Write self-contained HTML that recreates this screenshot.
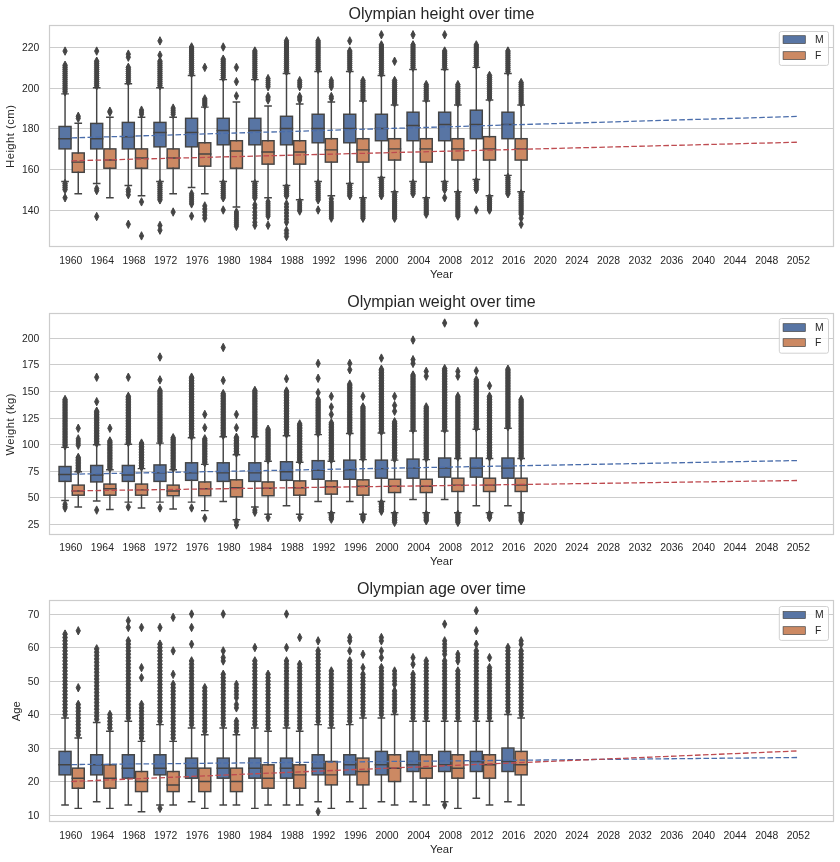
<!DOCTYPE html>
<html lang="en">
<head>
<meta charset="utf-8">
<title>Olympian height, weight and age over time</title>
<style>
html,body{margin:0;padding:0;background:#ffffff;}
body{width:840px;height:862px;overflow:hidden;font-family:"Liberation Sans",sans-serif;}
svg{display:block;will-change:transform;transform:translateZ(0);}
</style>
</head>
<body>
<svg width="840" height="862" viewBox="0 0 840 862" font-family="'Liberation Sans', sans-serif" fill="#262626">
<defs><path id="d" d="M0 -4.2 L2.15 0 L0 4.2 L-2.15 0 Z" fill="#444444" stroke="#444444" stroke-width="0.95" stroke-linejoin="miter"/><path id="e" d="M0 -4.25 L2.3 0 L0 4.25 L-2.3 0 Z" fill="#444444" stroke="#444444" stroke-width="1" stroke-linejoin="miter"/></defs>
<rect width="840" height="862" fill="#ffffff"/>
<g>
<text x="441.5" y="18.6" font-size="16" text-anchor="middle">Olympian height over time</text>
<path d="M49.5 210.5H833.5M49.5 169.5H833.5M49.5 128.5H833.5M49.5 88.5H833.5M49.5 47.5H833.5" stroke="#cccccc" stroke-width="1" fill="none"/>
<g font-size="10.4" text-anchor="end">
<text x="39.3" y="214.25">140</text>
<text x="39.3" y="173.25">160</text>
<text x="39.3" y="132.25">180</text>
<text x="39.3" y="92.25">200</text>
<text x="39.3" y="51.25">220</text>
</g>
<g font-size="10.4" text-anchor="middle">
<text x="70.75" y="263.9">1960</text>
<text x="102.39" y="263.9">1964</text>
<text x="134.02" y="263.9">1968</text>
<text x="165.66" y="263.9">1972</text>
<text x="197.29" y="263.9">1976</text>
<text x="228.93" y="263.9">1980</text>
<text x="260.56" y="263.9">1984</text>
<text x="292.2" y="263.9">1988</text>
<text x="323.83" y="263.9">1992</text>
<text x="355.47" y="263.9">1996</text>
<text x="387.1" y="263.9">2000</text>
<text x="418.74" y="263.9">2004</text>
<text x="450.37" y="263.9">2008</text>
<text x="482" y="263.9">2012</text>
<text x="513.64" y="263.9">2016</text>
<text x="545.28" y="263.9">2020</text>
<text x="576.91" y="263.9">2024</text>
<text x="608.55" y="263.9">2028</text>
<text x="640.18" y="263.9">2032</text>
<text x="671.82" y="263.9">2036</text>
<text x="703.45" y="263.9">2040</text>
<text x="735.09" y="263.9">2044</text>
<text x="766.72" y="263.9">2048</text>
<text x="798.36" y="263.9">2052</text>
</g>
<text x="441.5" y="277.9" font-size="11.3" text-anchor="middle">Year</text>
<text transform="translate(14.3 136.3) rotate(-90)" font-size="11.3" letter-spacing="0.45" text-anchor="middle">Height (cm)</text>
<g stroke="#444444" stroke-width="1.45"><rect x="59.05" y="126.46" width="12" height="22.41" fill="#5875a4"/><rect x="72.25" y="152.95" width="12" height="19.36" fill="#cc8963"/><rect x="90.69" y="123.41" width="12" height="25.47" fill="#5875a4"/><rect x="103.89" y="148.88" width="12" height="19.36" fill="#cc8963"/><rect x="122.32" y="122.39" width="12" height="26.49" fill="#5875a4"/><rect x="135.52" y="148.88" width="12" height="19.36" fill="#cc8963"/><rect x="153.96" y="122.39" width="12" height="24.45" fill="#5875a4"/><rect x="167.16" y="148.88" width="12" height="19.36" fill="#cc8963"/><rect x="185.59" y="118.31" width="12" height="28.53" fill="#5875a4"/><rect x="198.79" y="142.76" width="12" height="23.43" fill="#cc8963"/><rect x="217.23" y="118.31" width="12" height="26.49" fill="#5875a4"/><rect x="230.43" y="140.72" width="12" height="27.51" fill="#cc8963"/><rect x="248.86" y="118.31" width="12" height="26.49" fill="#5875a4"/><rect x="262.06" y="140.72" width="12" height="23.43" fill="#cc8963"/><rect x="280.5" y="116.28" width="12" height="28.53" fill="#5875a4"/><rect x="293.7" y="140.72" width="12" height="23.43" fill="#cc8963"/><rect x="312.13" y="114.24" width="12" height="28.53" fill="#5875a4"/><rect x="325.33" y="138.69" width="12" height="23.43" fill="#cc8963"/><rect x="343.76" y="114.24" width="12" height="28.53" fill="#5875a4"/><rect x="356.97" y="138.69" width="12" height="23.43" fill="#cc8963"/><rect x="375.4" y="114.24" width="12" height="26.49" fill="#5875a4"/><rect x="388.6" y="138.69" width="12" height="21.39" fill="#cc8963"/><rect x="407.03" y="112.2" width="12" height="28.53" fill="#5875a4"/><rect x="420.24" y="138.69" width="12" height="23.43" fill="#cc8963"/><rect x="438.67" y="112.2" width="12" height="28.53" fill="#5875a4"/><rect x="451.87" y="138.69" width="12" height="21.39" fill="#cc8963"/><rect x="470.3" y="110.16" width="12" height="28.53" fill="#5875a4"/><rect x="483.5" y="136.65" width="12" height="23.43" fill="#cc8963"/><rect x="501.94" y="112.2" width="12" height="26.49" fill="#5875a4"/><rect x="515.14" y="138.69" width="12" height="21.39" fill="#cc8963"/></g>
<path d="M65.05 126.46V93.86M65.05 148.88V181.47M61.95 93.86H68.15M61.95 181.47H68.15M59.05 138.69H71.05M78.25 152.95V123.2M78.25 172.31V193.7M75.15 123.2H81.35M75.15 193.7H81.35M72.25 162.12H84.25M96.69 123.41V87.75M96.69 148.88V183.51M93.59 87.75H99.79M93.59 183.51H99.79M90.69 138.69H102.69M109.89 148.88V117.29M109.89 168.23V197.78M106.79 117.29H112.98M106.79 197.78H112.98M103.89 160.08H115.89M128.32 122.39V83.67M128.32 148.88V185.55M125.22 83.67H131.42M125.22 185.55H131.42M122.32 136.65H134.32M141.52 148.88V117.29M141.52 168.23V195.74M138.42 117.29H144.62M138.42 195.74H144.62M135.52 158.04H147.52M159.96 122.39V87.75M159.96 146.84V181.47M156.86 87.75H163.06M156.86 181.47H163.06M153.96 132.57H165.96M173.16 148.88V117.29M173.16 168.23V193.7M170.06 117.29H176.25M170.06 193.7H176.25M167.16 158.04H179.16M191.59 118.31V75.52M191.59 146.84V187.59M188.49 75.52H194.69M188.49 187.59H194.69M185.59 132.57H197.59M204.79 142.76V107.11M204.79 166.19V193.7M201.69 107.11H207.89M201.69 193.7H207.89M198.79 153.97H210.79M223.23 118.31V79.6M223.23 144.8V181.47M220.13 79.6H226.33M220.13 181.47H226.33M217.23 130.54H229.23M236.43 140.72V102.01M236.43 168.23V206.94M233.33 102.01H239.53M233.33 206.94H239.53M230.43 150.91H242.43M254.86 118.31V79.6M254.86 144.8V181.47M251.76 79.6H257.96M251.76 181.47H257.96M248.86 130.54H260.86M268.06 140.72V106.09M268.06 164.16V197.78M264.96 106.09H271.16M264.96 197.78H271.16M262.06 151.93H274.06M286.5 116.28V73.49M286.5 144.8V185.55M283.39 73.49H289.6M283.39 185.55H289.6M280.5 128.5H292.5M299.7 140.72V104.05M299.7 164.16V199.81M296.6 104.05H302.8M296.6 199.81H302.8M293.7 151.93H305.7M318.13 114.24V71.45M318.13 142.76V181.47M315.03 71.45H321.23M315.03 181.47H321.23M312.13 128.5H324.13M331.33 138.69V102.01M331.33 162.12V195.74M328.23 102.01H334.43M328.23 195.74H334.43M325.33 149.89H337.33M349.76 114.24V71.45M349.76 142.76V183.51M346.66 71.45H352.87M346.66 183.51H352.87M343.76 128.5H355.76M362.97 138.69V100.99M362.97 162.12V197.78M359.87 100.99H366.07M359.87 197.78H366.07M356.97 149.89H368.97M381.4 114.24V75.52M381.4 140.72V177.4M378.3 75.52H384.5M378.3 177.4H384.5M375.4 128.5H387.4M394.6 138.69V105.07M394.6 160.08V191.66M391.5 105.07H397.7M391.5 191.66H397.7M388.6 148.88H400.6M413.03 112.2V69.41M413.03 140.72V181.47M409.93 69.41H416.13M409.93 181.47H416.13M407.03 125.44H419.03M426.24 138.69V100.99M426.24 162.12V197.78M423.13 100.99H429.34M423.13 197.78H429.34M420.24 148.88H432.24M444.67 112.2V69.41M444.67 140.72V181.47M441.57 69.41H447.77M441.57 181.47H447.77M438.67 124.42H450.67M457.87 138.69V105.07M457.87 160.08V191.66M454.77 105.07H460.97M454.77 191.66H460.97M451.87 148.88H463.87M476.3 110.16V67.38M476.3 138.69V179.44M473.2 67.38H479.4M473.2 179.44H479.4M470.3 124.42H482.3M489.5 136.65V99.97M489.5 160.08V195.74M486.4 99.97H492.61M486.4 195.74H492.61M483.5 148.88H495.5M507.94 112.2V73.49M507.94 138.69V175.36M504.84 73.49H511.04M504.84 175.36H511.04M501.94 124.42H513.94M521.14 138.69V105.07M521.14 160.08V191.66M518.04 105.07H524.24M518.04 191.66H524.24M515.14 148.88H527.14" stroke="#444444" stroke-width="1.45" stroke-linecap="square" fill="none"/>
<g><use href="#e" x="65.05" y="91.82"/><use href="#e" x="65.05" y="89.79"/><use href="#e" x="65.05" y="87.75"/><use href="#e" x="65.05" y="85.71"/><use href="#e" x="65.05" y="83.67"/><use href="#e" x="65.05" y="81.64"/><use href="#e" x="65.05" y="79.6"/><use href="#e" x="65.05" y="77.56"/><use href="#e" x="65.05" y="75.52"/><use href="#e" x="65.05" y="73.49"/><use href="#e" x="65.05" y="71.45"/><use href="#e" x="65.05" y="69.41"/><use href="#e" x="65.05" y="67.38"/><use href="#e" x="65.05" y="65.34"/><use href="#d" x="65.05" y="51.08"/><use href="#e" x="65.05" y="183.51"/><use href="#e" x="65.05" y="185.55"/><use href="#e" x="65.05" y="187.59"/><use href="#e" x="65.05" y="189.62"/><use href="#d" x="65.05" y="197.78"/><use href="#d" x="78.25" y="118.31"/><use href="#d" x="78.25" y="116.28"/><use href="#e" x="96.69" y="85.71"/><use href="#e" x="96.69" y="83.67"/><use href="#e" x="96.69" y="81.64"/><use href="#e" x="96.69" y="79.6"/><use href="#e" x="96.69" y="77.56"/><use href="#e" x="96.69" y="75.52"/><use href="#e" x="96.69" y="73.49"/><use href="#e" x="96.69" y="71.45"/><use href="#e" x="96.69" y="69.41"/><use href="#e" x="96.69" y="67.38"/><use href="#e" x="96.69" y="65.34"/><use href="#e" x="96.69" y="63.3"/><use href="#e" x="96.69" y="61.26"/><use href="#d" x="96.69" y="51.08"/><use href="#d" x="96.69" y="188.61"/><use href="#d" x="96.69" y="190.64"/><use href="#d" x="96.69" y="216.52"/><use href="#d" x="109.89" y="112.2"/><use href="#d" x="109.89" y="111.18"/><use href="#e" x="128.32" y="81.64"/><use href="#e" x="128.32" y="79.6"/><use href="#e" x="128.32" y="77.56"/><use href="#e" x="128.32" y="75.52"/><use href="#e" x="128.32" y="73.49"/><use href="#e" x="128.32" y="71.45"/><use href="#e" x="128.32" y="69.41"/><use href="#e" x="128.32" y="67.38"/><use href="#d" x="128.32" y="57.19"/><use href="#d" x="128.32" y="54.13"/><use href="#d" x="128.32" y="189.62"/><use href="#d" x="128.32" y="191.66"/><use href="#d" x="128.32" y="194.72"/><use href="#d" x="128.32" y="224.26"/><use href="#d" x="141.52" y="114.24"/><use href="#d" x="141.52" y="112.2"/><use href="#d" x="141.52" y="110.16"/><use href="#d" x="141.52" y="201.85"/><use href="#d" x="141.52" y="235.88"/><use href="#e" x="159.96" y="85.71"/><use href="#e" x="159.96" y="83.67"/><use href="#e" x="159.96" y="81.64"/><use href="#e" x="159.96" y="79.6"/><use href="#e" x="159.96" y="77.56"/><use href="#e" x="159.96" y="75.52"/><use href="#e" x="159.96" y="73.49"/><use href="#e" x="159.96" y="71.45"/><use href="#e" x="159.96" y="69.41"/><use href="#e" x="159.96" y="67.38"/><use href="#e" x="159.96" y="65.34"/><use href="#e" x="159.96" y="63.3"/><use href="#e" x="159.96" y="61.26"/><use href="#d" x="159.96" y="55.15"/><use href="#d" x="159.96" y="40.89"/><use href="#e" x="159.96" y="183.51"/><use href="#e" x="159.96" y="185.55"/><use href="#e" x="159.96" y="187.59"/><use href="#e" x="159.96" y="189.62"/><use href="#e" x="159.96" y="191.66"/><use href="#e" x="159.96" y="193.7"/><use href="#e" x="159.96" y="195.74"/><use href="#e" x="159.96" y="197.78"/><use href="#e" x="159.96" y="199.81"/><use href="#d" x="159.96" y="225.48"/><use href="#d" x="159.96" y="230.17"/><use href="#d" x="173.16" y="114.24"/><use href="#d" x="173.16" y="112.2"/><use href="#d" x="173.16" y="110.16"/><use href="#d" x="173.16" y="108.12"/><use href="#d" x="173.16" y="212.04"/><use href="#e" x="191.59" y="73.49"/><use href="#e" x="191.59" y="71.45"/><use href="#e" x="191.59" y="69.41"/><use href="#e" x="191.59" y="67.38"/><use href="#e" x="191.59" y="65.34"/><use href="#e" x="191.59" y="63.3"/><use href="#e" x="191.59" y="61.26"/><use href="#e" x="191.59" y="59.23"/><use href="#e" x="191.59" y="57.19"/><use href="#e" x="191.59" y="55.15"/><use href="#e" x="191.59" y="53.11"/><use href="#e" x="191.59" y="51.08"/><use href="#e" x="191.59" y="49.04"/><use href="#e" x="191.59" y="47"/><use href="#d" x="191.59" y="193.7"/><use href="#d" x="191.59" y="195.74"/><use href="#d" x="191.59" y="197.78"/><use href="#d" x="191.59" y="199.81"/><use href="#d" x="191.59" y="201.85"/><use href="#d" x="191.59" y="203.89"/><use href="#d" x="191.59" y="216.11"/><use href="#e" x="204.79" y="105.07"/><use href="#e" x="204.79" y="103.03"/><use href="#e" x="204.79" y="100.99"/><use href="#e" x="204.79" y="98.96"/><use href="#d" x="204.79" y="67.38"/><use href="#d" x="204.79" y="205.93"/><use href="#d" x="204.79" y="208.98"/><use href="#d" x="204.79" y="212.04"/><use href="#d" x="204.79" y="215.09"/><use href="#d" x="204.79" y="218.15"/><use href="#e" x="223.23" y="77.56"/><use href="#e" x="223.23" y="75.52"/><use href="#e" x="223.23" y="73.49"/><use href="#e" x="223.23" y="71.45"/><use href="#e" x="223.23" y="69.41"/><use href="#e" x="223.23" y="67.38"/><use href="#e" x="223.23" y="65.34"/><use href="#e" x="223.23" y="63.3"/><use href="#e" x="223.23" y="61.26"/><use href="#e" x="223.23" y="59.23"/><use href="#d" x="223.23" y="47"/><use href="#e" x="223.23" y="183.51"/><use href="#e" x="223.23" y="185.55"/><use href="#e" x="223.23" y="187.59"/><use href="#e" x="223.23" y="189.62"/><use href="#e" x="223.23" y="191.66"/><use href="#e" x="223.23" y="193.7"/><use href="#e" x="223.23" y="195.74"/><use href="#e" x="223.23" y="197.78"/><use href="#d" x="223.23" y="210"/><use href="#d" x="236.43" y="95.9"/><use href="#d" x="236.43" y="81.64"/><use href="#d" x="236.43" y="67.38"/><use href="#d" x="236.43" y="212.04"/><use href="#d" x="236.43" y="214.08"/><use href="#d" x="236.43" y="216.11"/><use href="#d" x="236.43" y="218.15"/><use href="#d" x="236.43" y="220.19"/><use href="#d" x="236.43" y="222.22"/><use href="#d" x="236.43" y="224.26"/><use href="#d" x="236.43" y="226.3"/><use href="#e" x="254.86" y="77.56"/><use href="#e" x="254.86" y="75.52"/><use href="#e" x="254.86" y="73.49"/><use href="#e" x="254.86" y="71.45"/><use href="#e" x="254.86" y="69.41"/><use href="#e" x="254.86" y="67.38"/><use href="#e" x="254.86" y="65.34"/><use href="#e" x="254.86" y="63.3"/><use href="#e" x="254.86" y="61.26"/><use href="#e" x="254.86" y="59.23"/><use href="#e" x="254.86" y="57.19"/><use href="#e" x="254.86" y="55.15"/><use href="#e" x="254.86" y="53.11"/><use href="#e" x="254.86" y="51.08"/><use href="#e" x="254.86" y="183.51"/><use href="#e" x="254.86" y="185.55"/><use href="#e" x="254.86" y="187.59"/><use href="#e" x="254.86" y="189.62"/><use href="#e" x="254.86" y="191.66"/><use href="#e" x="254.86" y="193.7"/><use href="#e" x="254.86" y="195.74"/><use href="#e" x="254.86" y="197.78"/><use href="#d" x="254.86" y="204.91"/><use href="#d" x="254.86" y="207.96"/><use href="#d" x="254.86" y="212.04"/><use href="#d" x="254.86" y="215.09"/><use href="#d" x="254.86" y="218.15"/><use href="#d" x="254.86" y="222.22"/><use href="#d" x="254.86" y="225.28"/><use href="#d" x="268.06" y="99.97"/><use href="#d" x="268.06" y="97.94"/><use href="#d" x="268.06" y="96.51"/><use href="#d" x="268.06" y="86.73"/><use href="#d" x="268.06" y="84.69"/><use href="#d" x="268.06" y="82.66"/><use href="#d" x="268.06" y="80.62"/><use href="#d" x="268.06" y="78.58"/><use href="#d" x="268.06" y="201.85"/><use href="#d" x="268.06" y="203.89"/><use href="#d" x="268.06" y="205.93"/><use href="#d" x="268.06" y="207.96"/><use href="#d" x="268.06" y="210"/><use href="#d" x="268.06" y="212.04"/><use href="#d" x="268.06" y="214.08"/><use href="#d" x="268.06" y="216.11"/><use href="#d" x="268.06" y="225.28"/><use href="#e" x="286.5" y="71.45"/><use href="#e" x="286.5" y="69.41"/><use href="#e" x="286.5" y="67.38"/><use href="#e" x="286.5" y="65.34"/><use href="#e" x="286.5" y="63.3"/><use href="#e" x="286.5" y="61.26"/><use href="#e" x="286.5" y="59.23"/><use href="#e" x="286.5" y="57.19"/><use href="#e" x="286.5" y="55.15"/><use href="#e" x="286.5" y="53.11"/><use href="#e" x="286.5" y="51.08"/><use href="#e" x="286.5" y="49.04"/><use href="#e" x="286.5" y="47"/><use href="#e" x="286.5" y="44.96"/><use href="#e" x="286.5" y="42.92"/><use href="#e" x="286.5" y="40.89"/><use href="#e" x="286.5" y="187.59"/><use href="#e" x="286.5" y="189.62"/><use href="#e" x="286.5" y="191.66"/><use href="#e" x="286.5" y="193.7"/><use href="#e" x="286.5" y="195.74"/><use href="#d" x="286.5" y="203.89"/><use href="#d" x="286.5" y="206.94"/><use href="#d" x="286.5" y="210"/><use href="#d" x="286.5" y="213.06"/><use href="#d" x="286.5" y="216.11"/><use href="#d" x="286.5" y="219.17"/><use href="#d" x="286.5" y="222.22"/><use href="#d" x="286.5" y="230.38"/><use href="#d" x="286.5" y="233.43"/><use href="#d" x="286.5" y="236.49"/><use href="#d" x="299.7" y="99.97"/><use href="#d" x="299.7" y="97.94"/><use href="#d" x="299.7" y="96.51"/><use href="#d" x="299.7" y="86.73"/><use href="#d" x="299.7" y="84.69"/><use href="#d" x="299.7" y="82.66"/><use href="#d" x="299.7" y="80.62"/><use href="#d" x="299.7" y="201.85"/><use href="#d" x="299.7" y="203.89"/><use href="#d" x="299.7" y="205.93"/><use href="#d" x="299.7" y="207.96"/><use href="#d" x="299.7" y="210"/><use href="#d" x="299.7" y="211.02"/><use href="#e" x="318.13" y="69.41"/><use href="#e" x="318.13" y="67.38"/><use href="#e" x="318.13" y="65.34"/><use href="#e" x="318.13" y="63.3"/><use href="#e" x="318.13" y="61.26"/><use href="#e" x="318.13" y="59.23"/><use href="#e" x="318.13" y="57.19"/><use href="#e" x="318.13" y="55.15"/><use href="#e" x="318.13" y="53.11"/><use href="#e" x="318.13" y="51.08"/><use href="#e" x="318.13" y="49.04"/><use href="#e" x="318.13" y="47"/><use href="#e" x="318.13" y="44.96"/><use href="#e" x="318.13" y="42.92"/><use href="#e" x="318.13" y="40.89"/><use href="#e" x="318.13" y="183.51"/><use href="#e" x="318.13" y="185.55"/><use href="#e" x="318.13" y="187.59"/><use href="#e" x="318.13" y="189.62"/><use href="#e" x="318.13" y="191.66"/><use href="#e" x="318.13" y="193.7"/><use href="#e" x="318.13" y="195.74"/><use href="#e" x="318.13" y="197.78"/><use href="#e" x="318.13" y="199.81"/><use href="#d" x="318.13" y="210"/><use href="#d" x="331.33" y="98.55"/><use href="#d" x="331.33" y="96.51"/><use href="#d" x="331.33" y="86.73"/><use href="#d" x="331.33" y="84.69"/><use href="#d" x="331.33" y="82.66"/><use href="#d" x="331.33" y="80.62"/><use href="#d" x="331.33" y="198.79"/><use href="#d" x="331.33" y="201.85"/><use href="#d" x="331.33" y="203.89"/><use href="#d" x="331.33" y="205.93"/><use href="#d" x="331.33" y="207.96"/><use href="#d" x="331.33" y="210"/><use href="#d" x="331.33" y="212.04"/><use href="#d" x="331.33" y="214.08"/><use href="#d" x="331.33" y="216.11"/><use href="#d" x="331.33" y="218.15"/><use href="#e" x="349.76" y="69.41"/><use href="#e" x="349.76" y="67.38"/><use href="#e" x="349.76" y="65.34"/><use href="#e" x="349.76" y="63.3"/><use href="#e" x="349.76" y="61.26"/><use href="#e" x="349.76" y="59.23"/><use href="#e" x="349.76" y="57.19"/><use href="#e" x="349.76" y="55.15"/><use href="#e" x="349.76" y="53.11"/><use href="#e" x="349.76" y="51.08"/><use href="#d" x="349.76" y="40.89"/><use href="#e" x="349.76" y="185.55"/><use href="#e" x="349.76" y="187.59"/><use href="#e" x="349.76" y="189.62"/><use href="#e" x="349.76" y="191.66"/><use href="#e" x="349.76" y="193.7"/><use href="#e" x="349.76" y="195.74"/><use href="#e" x="362.97" y="98.96"/><use href="#e" x="362.97" y="96.92"/><use href="#e" x="362.97" y="94.88"/><use href="#e" x="362.97" y="92.84"/><use href="#e" x="362.97" y="90.81"/><use href="#e" x="362.97" y="88.77"/><use href="#e" x="362.97" y="86.73"/><use href="#e" x="362.97" y="84.69"/><use href="#e" x="362.97" y="82.66"/><use href="#e" x="362.97" y="80.62"/><use href="#e" x="362.97" y="199.81"/><use href="#e" x="362.97" y="201.85"/><use href="#e" x="362.97" y="203.89"/><use href="#e" x="362.97" y="205.93"/><use href="#e" x="362.97" y="207.96"/><use href="#e" x="362.97" y="210"/><use href="#e" x="362.97" y="212.04"/><use href="#e" x="362.97" y="214.08"/><use href="#e" x="362.97" y="216.11"/><use href="#e" x="362.97" y="218.15"/><use href="#e" x="381.4" y="73.49"/><use href="#e" x="381.4" y="71.45"/><use href="#e" x="381.4" y="69.41"/><use href="#e" x="381.4" y="67.38"/><use href="#e" x="381.4" y="65.34"/><use href="#e" x="381.4" y="63.3"/><use href="#e" x="381.4" y="61.26"/><use href="#e" x="381.4" y="59.23"/><use href="#e" x="381.4" y="57.19"/><use href="#e" x="381.4" y="55.15"/><use href="#e" x="381.4" y="53.11"/><use href="#e" x="381.4" y="51.08"/><use href="#e" x="381.4" y="49.04"/><use href="#e" x="381.4" y="47"/><use href="#e" x="381.4" y="44.96"/><use href="#d" x="381.4" y="34.77"/><use href="#e" x="381.4" y="179.44"/><use href="#e" x="381.4" y="181.47"/><use href="#e" x="381.4" y="183.51"/><use href="#e" x="381.4" y="185.55"/><use href="#e" x="381.4" y="187.59"/><use href="#e" x="381.4" y="189.62"/><use href="#e" x="381.4" y="191.66"/><use href="#e" x="381.4" y="193.7"/><use href="#e" x="381.4" y="195.74"/><use href="#e" x="394.6" y="103.03"/><use href="#e" x="394.6" y="100.99"/><use href="#e" x="394.6" y="98.96"/><use href="#e" x="394.6" y="96.92"/><use href="#e" x="394.6" y="94.88"/><use href="#e" x="394.6" y="92.84"/><use href="#e" x="394.6" y="90.81"/><use href="#e" x="394.6" y="88.77"/><use href="#e" x="394.6" y="86.73"/><use href="#e" x="394.6" y="84.69"/><use href="#e" x="394.6" y="82.66"/><use href="#e" x="394.6" y="80.62"/><use href="#d" x="394.6" y="61.26"/><use href="#e" x="394.6" y="193.7"/><use href="#e" x="394.6" y="195.74"/><use href="#e" x="394.6" y="197.78"/><use href="#e" x="394.6" y="199.81"/><use href="#e" x="394.6" y="201.85"/><use href="#e" x="394.6" y="203.89"/><use href="#e" x="394.6" y="205.93"/><use href="#e" x="394.6" y="207.96"/><use href="#e" x="394.6" y="210"/><use href="#e" x="394.6" y="212.04"/><use href="#e" x="394.6" y="214.08"/><use href="#e" x="394.6" y="216.11"/><use href="#e" x="394.6" y="218.15"/><use href="#e" x="413.03" y="67.38"/><use href="#e" x="413.03" y="65.34"/><use href="#e" x="413.03" y="63.3"/><use href="#e" x="413.03" y="61.26"/><use href="#e" x="413.03" y="59.23"/><use href="#e" x="413.03" y="57.19"/><use href="#e" x="413.03" y="55.15"/><use href="#e" x="413.03" y="53.11"/><use href="#e" x="413.03" y="51.08"/><use href="#e" x="413.03" y="49.04"/><use href="#e" x="413.03" y="47"/><use href="#e" x="413.03" y="44.96"/><use href="#d" x="413.03" y="34.77"/><use href="#e" x="413.03" y="183.51"/><use href="#e" x="413.03" y="185.55"/><use href="#e" x="413.03" y="187.59"/><use href="#e" x="413.03" y="189.62"/><use href="#e" x="413.03" y="191.66"/><use href="#e" x="413.03" y="193.7"/><use href="#e" x="426.24" y="98.96"/><use href="#e" x="426.24" y="96.92"/><use href="#e" x="426.24" y="94.88"/><use href="#e" x="426.24" y="92.84"/><use href="#e" x="426.24" y="90.81"/><use href="#e" x="426.24" y="88.77"/><use href="#e" x="426.24" y="86.73"/><use href="#e" x="426.24" y="84.69"/><use href="#e" x="426.24" y="199.81"/><use href="#e" x="426.24" y="201.85"/><use href="#e" x="426.24" y="203.89"/><use href="#e" x="426.24" y="205.93"/><use href="#e" x="426.24" y="207.96"/><use href="#e" x="426.24" y="210"/><use href="#e" x="426.24" y="212.04"/><use href="#e" x="426.24" y="214.08"/><use href="#e" x="444.67" y="67.38"/><use href="#e" x="444.67" y="65.34"/><use href="#e" x="444.67" y="63.3"/><use href="#e" x="444.67" y="61.26"/><use href="#e" x="444.67" y="59.23"/><use href="#e" x="444.67" y="57.19"/><use href="#e" x="444.67" y="55.15"/><use href="#e" x="444.67" y="53.11"/><use href="#e" x="444.67" y="51.08"/><use href="#d" x="444.67" y="34.77"/><use href="#e" x="444.67" y="183.51"/><use href="#e" x="444.67" y="185.55"/><use href="#e" x="444.67" y="187.59"/><use href="#e" x="444.67" y="189.62"/><use href="#d" x="444.67" y="197.78"/><use href="#e" x="457.87" y="103.03"/><use href="#e" x="457.87" y="100.99"/><use href="#e" x="457.87" y="98.96"/><use href="#e" x="457.87" y="96.92"/><use href="#e" x="457.87" y="94.88"/><use href="#e" x="457.87" y="92.84"/><use href="#e" x="457.87" y="90.81"/><use href="#e" x="457.87" y="88.77"/><use href="#e" x="457.87" y="86.73"/><use href="#e" x="457.87" y="84.69"/><use href="#e" x="457.87" y="193.7"/><use href="#e" x="457.87" y="195.74"/><use href="#e" x="457.87" y="197.78"/><use href="#e" x="457.87" y="199.81"/><use href="#e" x="457.87" y="201.85"/><use href="#e" x="457.87" y="203.89"/><use href="#e" x="457.87" y="205.93"/><use href="#e" x="457.87" y="207.96"/><use href="#e" x="457.87" y="210"/><use href="#e" x="457.87" y="212.04"/><use href="#e" x="457.87" y="214.08"/><use href="#e" x="457.87" y="216.11"/><use href="#e" x="476.3" y="65.34"/><use href="#e" x="476.3" y="63.3"/><use href="#e" x="476.3" y="61.26"/><use href="#e" x="476.3" y="59.23"/><use href="#e" x="476.3" y="57.19"/><use href="#e" x="476.3" y="55.15"/><use href="#e" x="476.3" y="53.11"/><use href="#e" x="476.3" y="51.08"/><use href="#e" x="476.3" y="49.04"/><use href="#e" x="476.3" y="47"/><use href="#e" x="476.3" y="44.96"/><use href="#e" x="476.3" y="181.47"/><use href="#e" x="476.3" y="183.51"/><use href="#e" x="476.3" y="185.55"/><use href="#e" x="476.3" y="187.59"/><use href="#e" x="476.3" y="189.62"/><use href="#d" x="476.3" y="210"/><use href="#e" x="489.5" y="97.94"/><use href="#e" x="489.5" y="95.9"/><use href="#e" x="489.5" y="93.86"/><use href="#e" x="489.5" y="91.82"/><use href="#e" x="489.5" y="89.79"/><use href="#e" x="489.5" y="87.75"/><use href="#e" x="489.5" y="85.71"/><use href="#e" x="489.5" y="83.67"/><use href="#e" x="489.5" y="81.64"/><use href="#e" x="489.5" y="79.6"/><use href="#e" x="489.5" y="77.56"/><use href="#e" x="489.5" y="75.52"/><use href="#e" x="489.5" y="197.78"/><use href="#e" x="489.5" y="199.81"/><use href="#e" x="489.5" y="201.85"/><use href="#e" x="489.5" y="203.89"/><use href="#e" x="489.5" y="205.93"/><use href="#e" x="489.5" y="207.96"/><use href="#e" x="489.5" y="210"/><use href="#e" x="507.94" y="71.45"/><use href="#e" x="507.94" y="69.41"/><use href="#e" x="507.94" y="67.38"/><use href="#e" x="507.94" y="65.34"/><use href="#e" x="507.94" y="63.3"/><use href="#e" x="507.94" y="61.26"/><use href="#e" x="507.94" y="59.23"/><use href="#e" x="507.94" y="57.19"/><use href="#e" x="507.94" y="55.15"/><use href="#e" x="507.94" y="53.11"/><use href="#e" x="507.94" y="51.08"/><use href="#e" x="507.94" y="177.4"/><use href="#e" x="507.94" y="179.44"/><use href="#e" x="507.94" y="181.47"/><use href="#e" x="507.94" y="183.51"/><use href="#e" x="507.94" y="185.55"/><use href="#e" x="507.94" y="187.59"/><use href="#e" x="507.94" y="189.62"/><use href="#e" x="507.94" y="191.66"/><use href="#e" x="507.94" y="193.7"/><use href="#e" x="521.14" y="103.03"/><use href="#e" x="521.14" y="100.99"/><use href="#e" x="521.14" y="98.96"/><use href="#e" x="521.14" y="96.92"/><use href="#e" x="521.14" y="94.88"/><use href="#e" x="521.14" y="92.84"/><use href="#e" x="521.14" y="90.81"/><use href="#e" x="521.14" y="88.77"/><use href="#e" x="521.14" y="86.73"/><use href="#e" x="521.14" y="84.69"/><use href="#e" x="521.14" y="82.66"/><use href="#e" x="521.14" y="193.7"/><use href="#e" x="521.14" y="195.74"/><use href="#e" x="521.14" y="197.78"/><use href="#e" x="521.14" y="199.81"/><use href="#e" x="521.14" y="201.85"/><use href="#e" x="521.14" y="203.89"/><use href="#e" x="521.14" y="205.93"/><use href="#e" x="521.14" y="207.96"/><use href="#e" x="521.14" y="210"/><use href="#e" x="521.14" y="212.04"/><use href="#e" x="521.14" y="214.08"/><use href="#d" x="521.14" y="218.15"/><use href="#d" x="521.14" y="224.26"/></g>
<path d="M71.5 137.9L798.3 116.4" stroke="#4a6dab" stroke-width="1.3" stroke-dasharray="5.6 2.4" fill="none"/>
<path d="M71.5 160.8L798.3 142.2" stroke="#be4b50" stroke-width="1.3" stroke-dasharray="5.6 2.4" fill="none"/>
<rect x="49.5" y="25.5" width="784" height="221" fill="none" stroke="#cccccc" stroke-width="1.2"/>
<rect x="779.3" y="31.5" width="49.2" height="33.9" rx="2" ry="2" fill="#ffffff" fill-opacity="0.8" stroke="#cccccc" stroke-width="0.9"/>
<rect x="783.1" y="35.7" width="22.2" height="7.8" fill="#5875a4" stroke="#444444" stroke-width="0.7"/>
<rect x="783.1" y="51.7" width="22.2" height="7.8" fill="#cc8963" stroke="#444444" stroke-width="0.7"/>
<text x="814.9" y="43.2" font-size="10.4">M</text>
<text x="814.9" y="59" font-size="10.4">F</text>
</g>
<g>
<text x="441.5" y="306.6" font-size="16" text-anchor="middle">Olympian weight over time</text>
<path d="M49.5 524.5H833.5M49.5 497.5H833.5M49.5 471.5H833.5M49.5 444.5H833.5M49.5 418.5H833.5M49.5 391.5H833.5M49.5 364.5H833.5M49.5 338.5H833.5" stroke="#cccccc" stroke-width="1" fill="none"/>
<g font-size="10.4" text-anchor="end">
<text x="39.3" y="528.25">25</text>
<text x="39.3" y="501.25">50</text>
<text x="39.3" y="475.25">75</text>
<text x="39.3" y="448.25">100</text>
<text x="39.3" y="422.25">125</text>
<text x="39.3" y="395.25">150</text>
<text x="39.3" y="368.25">175</text>
<text x="39.3" y="342.25">200</text>
</g>
<g font-size="10.4" text-anchor="middle">
<text x="70.75" y="550.9">1960</text>
<text x="102.39" y="550.9">1964</text>
<text x="134.02" y="550.9">1968</text>
<text x="165.66" y="550.9">1972</text>
<text x="197.29" y="550.9">1976</text>
<text x="228.93" y="550.9">1980</text>
<text x="260.56" y="550.9">1984</text>
<text x="292.2" y="550.9">1988</text>
<text x="323.83" y="550.9">1992</text>
<text x="355.47" y="550.9">1996</text>
<text x="387.1" y="550.9">2000</text>
<text x="418.74" y="550.9">2004</text>
<text x="450.37" y="550.9">2008</text>
<text x="482" y="550.9">2012</text>
<text x="513.64" y="550.9">2016</text>
<text x="545.28" y="550.9">2020</text>
<text x="576.91" y="550.9">2024</text>
<text x="608.55" y="550.9">2028</text>
<text x="640.18" y="550.9">2032</text>
<text x="671.82" y="550.9">2036</text>
<text x="703.45" y="550.9">2040</text>
<text x="735.09" y="550.9">2044</text>
<text x="766.72" y="550.9">2048</text>
<text x="798.36" y="550.9">2052</text>
</g>
<text x="441.5" y="565" font-size="11.3" text-anchor="middle">Year</text>
<text transform="translate(14.3 424.3) rotate(-90)" font-size="11.3" letter-spacing="0.45" text-anchor="middle">Weight (kg)</text>
<g stroke="#444444" stroke-width="1.45"><rect x="59.05" y="466.51" width="12" height="14.88" fill="#5875a4"/><rect x="72.25" y="485.11" width="12" height="10.1" fill="#cc8963"/><rect x="90.69" y="465.45" width="12" height="16.47" fill="#5875a4"/><rect x="103.89" y="484.05" width="12" height="11.16" fill="#cc8963"/><rect x="122.32" y="465.45" width="12" height="15.94" fill="#5875a4"/><rect x="135.52" y="484.05" width="12" height="11.16" fill="#cc8963"/><rect x="153.96" y="464.92" width="12" height="16.47" fill="#5875a4"/><rect x="167.16" y="485.11" width="12" height="10.63" fill="#cc8963"/><rect x="185.59" y="462.79" width="12" height="17.54" fill="#5875a4"/><rect x="198.79" y="481.92" width="12" height="13.82" fill="#cc8963"/><rect x="217.23" y="462.79" width="12" height="18.6" fill="#5875a4"/><rect x="230.43" y="479.8" width="12" height="17.01" fill="#cc8963"/><rect x="248.86" y="462.79" width="12" height="18.6" fill="#5875a4"/><rect x="262.06" y="481.92" width="12" height="13.82" fill="#cc8963"/><rect x="280.5" y="461.73" width="12" height="18.6" fill="#5875a4"/><rect x="293.7" y="480.86" width="12" height="14.35" fill="#cc8963"/><rect x="312.13" y="460.66" width="12" height="18.6" fill="#5875a4"/><rect x="325.33" y="480.86" width="12" height="13.29" fill="#cc8963"/><rect x="343.76" y="460.13" width="12" height="19.13" fill="#5875a4"/><rect x="356.97" y="479.8" width="12" height="15.41" fill="#cc8963"/><rect x="375.4" y="460.13" width="12" height="18.07" fill="#5875a4"/><rect x="388.6" y="479.27" width="12" height="13.29" fill="#cc8963"/><rect x="407.03" y="459.07" width="12" height="19.13" fill="#5875a4"/><rect x="420.24" y="479.27" width="12" height="13.29" fill="#cc8963"/><rect x="438.67" y="458.01" width="12" height="19.13" fill="#5875a4"/><rect x="451.87" y="478.2" width="12" height="13.29" fill="#cc8963"/><rect x="470.3" y="458.01" width="12" height="19.13" fill="#5875a4"/><rect x="483.5" y="478.2" width="12" height="13.29" fill="#cc8963"/><rect x="501.94" y="458.01" width="12" height="20.2" fill="#5875a4"/><rect x="515.14" y="478.2" width="12" height="13.29" fill="#cc8963"/></g>
<path d="M65.05 466.51V447.38M65.05 481.39V500.52M61.95 447.38H68.15M61.95 500.52H68.15M59.05 474.48H71.05M78.25 485.11V471.83M78.25 495.21V506.9M75.15 471.83H81.35M75.15 506.9H81.35M72.25 490.96H84.25M96.69 465.45V444.72M96.69 481.92V501.06M93.59 444.72H99.79M93.59 501.06H99.79M90.69 475.01H102.69M109.89 484.05V469.7M109.89 495.21V509.56M106.79 469.7H112.98M106.79 509.56H112.98M103.89 488.83H115.89M128.32 465.45V444.19M128.32 481.39V502.12M125.22 444.19H131.42M125.22 502.12H131.42M122.32 475.01H134.32M141.52 484.05V468.64M141.52 495.21V507.96M138.42 468.64H144.62M138.42 507.96H144.62M135.52 489.89H147.52M159.96 464.92V443.13M159.96 481.39V502.12M156.86 443.13H163.06M156.86 502.12H163.06M153.96 472.89H165.96M173.16 485.11V469.7M173.16 495.74V509.03M170.06 469.7H176.25M170.06 509.03H176.25M167.16 490.96H179.16M191.59 462.79V437.81M191.59 480.33V502.12M188.49 437.81H194.69M188.49 502.12H194.69M185.59 472.89H197.59M204.79 481.92V464.39M204.79 495.74V510.62M201.69 464.39H207.89M201.69 510.62H207.89M198.79 488.83H210.79M223.23 462.79V436.75M223.23 481.39V501.59M220.13 436.75H226.33M220.13 501.59H226.33M217.23 472.89H229.23M236.43 479.8V454.82M236.43 496.8V519.66M233.33 454.82H239.53M233.33 519.66H239.53M230.43 487.77H242.43M254.86 462.79V436.75M254.86 481.39V506.9M251.76 436.75H257.96M251.76 506.9H257.96M248.86 472.89H260.86M268.06 481.92V461.2M268.06 495.74V514.34M264.96 461.2H271.16M264.96 514.34H271.16M262.06 488.3H274.06M286.5 461.73V435.69M286.5 480.33V505.84M283.39 435.69H289.6M283.39 505.84H289.6M280.5 471.83H292.5M299.7 480.86V462.26M299.7 495.21V514.34M296.6 462.26H302.8M296.6 514.34H302.8M293.7 487.77H305.7M318.13 460.66V434.62M318.13 479.27V501.59M315.03 434.62H321.23M315.03 501.59H321.23M312.13 470.23H324.13M331.33 480.86V461.2M331.33 494.15V512.75M328.23 461.2H334.43M328.23 512.75H334.43M325.33 486.71H337.33M349.76 460.13V433.56M349.76 479.27V501.59M346.66 433.56H352.87M346.66 501.59H352.87M343.76 469.7H355.76M362.97 479.8V459.6M362.97 495.21V514.34M359.87 459.6H366.07M359.87 514.34H366.07M356.97 486.17H368.97M381.4 460.13V433.03M381.4 478.2V501.59M378.3 433.03H384.5M378.3 501.59H384.5M375.4 468.64H387.4M394.6 479.27V460.13M394.6 492.55V512.75M391.5 460.13H397.7M391.5 512.75H397.7M388.6 486.17H400.6M413.03 459.07V430.9M413.03 478.2V499.46M409.93 430.9H416.13M409.93 499.46H416.13M407.03 468.11H419.03M426.24 479.27V459.6M426.24 492.55V512.75M423.13 459.6H429.34M423.13 512.75H429.34M420.24 486.17H432.24M444.67 458.01V430.9M444.67 477.14V499.46M441.57 430.9H447.77M441.57 499.46H447.77M438.67 468.11H450.67M457.87 478.2V458.54M457.87 491.49V512.75M454.77 458.54H460.97M454.77 512.75H460.97M451.87 485.11H463.87M476.3 458.01V429.31M476.3 477.14V505.84M473.2 429.31H479.4M473.2 505.84H479.4M470.3 468.11H482.3M489.5 478.2V458.54M489.5 491.49V512.75M486.4 458.54H492.61M486.4 512.75H492.61M483.5 485.11H495.5M507.94 458.01V428.25M507.94 478.2V505.84M504.84 428.25H511.04M504.84 505.84H511.04M501.94 468.11H513.94M521.14 478.2V458.54M521.14 491.49V512.75M518.04 458.54H524.24M518.04 512.75H524.24M515.14 485.11H527.14" stroke="#444444" stroke-width="1.45" stroke-linecap="square" fill="none"/>
<g><use href="#e" x="65.05" y="445.78"/><use href="#e" x="65.05" y="444.19"/><use href="#e" x="65.05" y="442.6"/><use href="#e" x="65.05" y="441"/><use href="#e" x="65.05" y="439.41"/><use href="#e" x="65.05" y="437.81"/><use href="#e" x="65.05" y="436.22"/><use href="#e" x="65.05" y="434.62"/><use href="#e" x="65.05" y="433.03"/><use href="#e" x="65.05" y="431.44"/><use href="#e" x="65.05" y="429.84"/><use href="#e" x="65.05" y="428.25"/><use href="#e" x="65.05" y="426.65"/><use href="#e" x="65.05" y="425.06"/><use href="#e" x="65.05" y="423.46"/><use href="#e" x="65.05" y="421.87"/><use href="#e" x="65.05" y="420.27"/><use href="#e" x="65.05" y="418.68"/><use href="#e" x="65.05" y="417.09"/><use href="#e" x="65.05" y="415.49"/><use href="#e" x="65.05" y="413.9"/><use href="#e" x="65.05" y="412.3"/><use href="#e" x="65.05" y="410.71"/><use href="#e" x="65.05" y="409.11"/><use href="#e" x="65.05" y="407.52"/><use href="#e" x="65.05" y="405.93"/><use href="#e" x="65.05" y="404.33"/><use href="#e" x="65.05" y="402.74"/><use href="#e" x="65.05" y="401.14"/><use href="#e" x="65.05" y="399.55"/><use href="#d" x="65.05" y="504.24"/><use href="#d" x="65.05" y="506.37"/><use href="#d" x="65.05" y="507.96"/><use href="#e" x="78.25" y="470.23"/><use href="#e" x="78.25" y="468.64"/><use href="#e" x="78.25" y="467.04"/><use href="#e" x="78.25" y="465.45"/><use href="#e" x="78.25" y="463.85"/><use href="#e" x="78.25" y="462.26"/><use href="#e" x="78.25" y="460.66"/><use href="#e" x="78.25" y="459.07"/><use href="#e" x="78.25" y="457.48"/><use href="#d" x="78.25" y="445.25"/><use href="#d" x="78.25" y="443.13"/><use href="#d" x="78.25" y="441"/><use href="#d" x="78.25" y="438.88"/><use href="#d" x="78.25" y="428.25"/><use href="#e" x="96.69" y="443.13"/><use href="#e" x="96.69" y="441.53"/><use href="#e" x="96.69" y="439.94"/><use href="#e" x="96.69" y="438.34"/><use href="#e" x="96.69" y="436.75"/><use href="#e" x="96.69" y="435.16"/><use href="#e" x="96.69" y="433.56"/><use href="#e" x="96.69" y="431.97"/><use href="#e" x="96.69" y="430.37"/><use href="#e" x="96.69" y="428.78"/><use href="#e" x="96.69" y="427.18"/><use href="#e" x="96.69" y="425.59"/><use href="#e" x="96.69" y="423.99"/><use href="#e" x="96.69" y="422.4"/><use href="#e" x="96.69" y="420.81"/><use href="#e" x="96.69" y="419.21"/><use href="#e" x="96.69" y="417.62"/><use href="#e" x="96.69" y="416.02"/><use href="#e" x="96.69" y="414.43"/><use href="#e" x="96.69" y="412.83"/><use href="#e" x="96.69" y="411.24"/><use href="#d" x="96.69" y="401.67"/><use href="#d" x="96.69" y="377.23"/><use href="#d" x="96.69" y="510.09"/><use href="#e" x="109.89" y="468.11"/><use href="#e" x="109.89" y="466.51"/><use href="#e" x="109.89" y="464.92"/><use href="#e" x="109.89" y="463.32"/><use href="#e" x="109.89" y="461.73"/><use href="#e" x="109.89" y="460.13"/><use href="#e" x="109.89" y="458.54"/><use href="#e" x="109.89" y="456.94"/><use href="#e" x="109.89" y="455.35"/><use href="#e" x="109.89" y="453.76"/><use href="#e" x="109.89" y="452.16"/><use href="#e" x="109.89" y="450.57"/><use href="#e" x="109.89" y="448.97"/><use href="#e" x="109.89" y="447.38"/><use href="#e" x="109.89" y="445.78"/><use href="#e" x="109.89" y="444.19"/><use href="#e" x="109.89" y="442.6"/><use href="#e" x="109.89" y="441"/><use href="#d" x="109.89" y="428.25"/><use href="#e" x="128.32" y="442.6"/><use href="#e" x="128.32" y="441"/><use href="#e" x="128.32" y="439.41"/><use href="#e" x="128.32" y="437.81"/><use href="#e" x="128.32" y="436.22"/><use href="#e" x="128.32" y="434.62"/><use href="#e" x="128.32" y="433.03"/><use href="#e" x="128.32" y="431.44"/><use href="#e" x="128.32" y="429.84"/><use href="#e" x="128.32" y="428.25"/><use href="#e" x="128.32" y="426.65"/><use href="#e" x="128.32" y="425.06"/><use href="#e" x="128.32" y="423.46"/><use href="#e" x="128.32" y="421.87"/><use href="#e" x="128.32" y="420.27"/><use href="#e" x="128.32" y="418.68"/><use href="#e" x="128.32" y="417.09"/><use href="#e" x="128.32" y="415.49"/><use href="#e" x="128.32" y="413.9"/><use href="#e" x="128.32" y="412.3"/><use href="#e" x="128.32" y="410.71"/><use href="#e" x="128.32" y="409.11"/><use href="#e" x="128.32" y="407.52"/><use href="#e" x="128.32" y="405.93"/><use href="#e" x="128.32" y="404.33"/><use href="#e" x="128.32" y="402.74"/><use href="#e" x="128.32" y="401.14"/><use href="#e" x="128.32" y="399.55"/><use href="#e" x="128.32" y="397.95"/><use href="#e" x="128.32" y="396.36"/><use href="#d" x="128.32" y="377.23"/><use href="#d" x="128.32" y="506.9"/><use href="#e" x="141.52" y="467.04"/><use href="#e" x="141.52" y="465.45"/><use href="#e" x="141.52" y="463.85"/><use href="#e" x="141.52" y="462.26"/><use href="#e" x="141.52" y="460.66"/><use href="#e" x="141.52" y="459.07"/><use href="#e" x="141.52" y="457.48"/><use href="#e" x="141.52" y="455.88"/><use href="#e" x="141.52" y="454.29"/><use href="#e" x="141.52" y="452.69"/><use href="#e" x="141.52" y="451.1"/><use href="#e" x="141.52" y="449.5"/><use href="#e" x="141.52" y="447.91"/><use href="#e" x="141.52" y="446.32"/><use href="#e" x="141.52" y="444.72"/><use href="#e" x="141.52" y="443.13"/><use href="#e" x="159.96" y="441.53"/><use href="#e" x="159.96" y="439.94"/><use href="#e" x="159.96" y="438.34"/><use href="#e" x="159.96" y="436.75"/><use href="#e" x="159.96" y="435.16"/><use href="#e" x="159.96" y="433.56"/><use href="#e" x="159.96" y="431.97"/><use href="#e" x="159.96" y="430.37"/><use href="#e" x="159.96" y="428.78"/><use href="#e" x="159.96" y="427.18"/><use href="#e" x="159.96" y="425.59"/><use href="#e" x="159.96" y="423.99"/><use href="#e" x="159.96" y="422.4"/><use href="#e" x="159.96" y="420.81"/><use href="#e" x="159.96" y="419.21"/><use href="#e" x="159.96" y="417.62"/><use href="#e" x="159.96" y="416.02"/><use href="#e" x="159.96" y="414.43"/><use href="#e" x="159.96" y="412.83"/><use href="#e" x="159.96" y="411.24"/><use href="#e" x="159.96" y="409.65"/><use href="#e" x="159.96" y="408.05"/><use href="#e" x="159.96" y="406.46"/><use href="#e" x="159.96" y="404.86"/><use href="#e" x="159.96" y="403.27"/><use href="#e" x="159.96" y="401.67"/><use href="#e" x="159.96" y="400.08"/><use href="#e" x="159.96" y="398.49"/><use href="#e" x="159.96" y="396.89"/><use href="#e" x="159.96" y="395.3"/><use href="#e" x="159.96" y="393.7"/><use href="#e" x="159.96" y="392.11"/><use href="#e" x="159.96" y="390.51"/><use href="#d" x="159.96" y="379.88"/><use href="#d" x="159.96" y="357.03"/><use href="#d" x="159.96" y="507.96"/><use href="#e" x="173.16" y="468.11"/><use href="#e" x="173.16" y="466.51"/><use href="#e" x="173.16" y="464.92"/><use href="#e" x="173.16" y="463.32"/><use href="#e" x="173.16" y="461.73"/><use href="#e" x="173.16" y="460.13"/><use href="#e" x="173.16" y="458.54"/><use href="#e" x="173.16" y="456.94"/><use href="#e" x="173.16" y="455.35"/><use href="#e" x="173.16" y="453.76"/><use href="#e" x="173.16" y="452.16"/><use href="#e" x="173.16" y="450.57"/><use href="#e" x="173.16" y="448.97"/><use href="#e" x="173.16" y="447.38"/><use href="#e" x="173.16" y="445.78"/><use href="#e" x="173.16" y="444.19"/><use href="#e" x="173.16" y="442.6"/><use href="#e" x="173.16" y="441"/><use href="#e" x="173.16" y="439.41"/><use href="#e" x="173.16" y="437.81"/><use href="#e" x="191.59" y="436.22"/><use href="#e" x="191.59" y="434.62"/><use href="#e" x="191.59" y="433.03"/><use href="#e" x="191.59" y="431.44"/><use href="#e" x="191.59" y="429.84"/><use href="#e" x="191.59" y="428.25"/><use href="#e" x="191.59" y="426.65"/><use href="#e" x="191.59" y="425.06"/><use href="#e" x="191.59" y="423.46"/><use href="#e" x="191.59" y="421.87"/><use href="#e" x="191.59" y="420.27"/><use href="#e" x="191.59" y="418.68"/><use href="#e" x="191.59" y="417.09"/><use href="#e" x="191.59" y="415.49"/><use href="#e" x="191.59" y="413.9"/><use href="#e" x="191.59" y="412.3"/><use href="#e" x="191.59" y="410.71"/><use href="#e" x="191.59" y="409.11"/><use href="#e" x="191.59" y="407.52"/><use href="#e" x="191.59" y="405.93"/><use href="#e" x="191.59" y="404.33"/><use href="#e" x="191.59" y="402.74"/><use href="#e" x="191.59" y="401.14"/><use href="#e" x="191.59" y="399.55"/><use href="#e" x="191.59" y="397.95"/><use href="#e" x="191.59" y="396.36"/><use href="#e" x="191.59" y="394.77"/><use href="#e" x="191.59" y="393.17"/><use href="#e" x="191.59" y="391.58"/><use href="#e" x="191.59" y="389.98"/><use href="#e" x="191.59" y="388.39"/><use href="#e" x="191.59" y="386.79"/><use href="#e" x="191.59" y="385.2"/><use href="#e" x="191.59" y="383.6"/><use href="#e" x="191.59" y="382.01"/><use href="#e" x="191.59" y="380.42"/><use href="#e" x="191.59" y="378.82"/><use href="#e" x="191.59" y="377.23"/><use href="#d" x="191.59" y="507.96"/><use href="#e" x="204.79" y="462.79"/><use href="#e" x="204.79" y="461.2"/><use href="#e" x="204.79" y="459.6"/><use href="#e" x="204.79" y="458.01"/><use href="#e" x="204.79" y="456.41"/><use href="#e" x="204.79" y="454.82"/><use href="#e" x="204.79" y="453.22"/><use href="#e" x="204.79" y="451.63"/><use href="#e" x="204.79" y="450.04"/><use href="#e" x="204.79" y="448.44"/><use href="#e" x="204.79" y="446.85"/><use href="#e" x="204.79" y="445.25"/><use href="#e" x="204.79" y="443.66"/><use href="#e" x="204.79" y="442.06"/><use href="#e" x="204.79" y="440.47"/><use href="#e" x="204.79" y="438.88"/><use href="#d" x="204.79" y="427.72"/><use href="#d" x="204.79" y="414.43"/><use href="#d" x="204.79" y="518.06"/><use href="#e" x="223.23" y="435.16"/><use href="#e" x="223.23" y="433.56"/><use href="#e" x="223.23" y="431.97"/><use href="#e" x="223.23" y="430.37"/><use href="#e" x="223.23" y="428.78"/><use href="#e" x="223.23" y="427.18"/><use href="#e" x="223.23" y="425.59"/><use href="#e" x="223.23" y="423.99"/><use href="#e" x="223.23" y="422.4"/><use href="#e" x="223.23" y="420.81"/><use href="#e" x="223.23" y="419.21"/><use href="#e" x="223.23" y="417.62"/><use href="#e" x="223.23" y="416.02"/><use href="#e" x="223.23" y="414.43"/><use href="#e" x="223.23" y="412.83"/><use href="#e" x="223.23" y="411.24"/><use href="#e" x="223.23" y="409.65"/><use href="#e" x="223.23" y="408.05"/><use href="#e" x="223.23" y="406.46"/><use href="#e" x="223.23" y="404.86"/><use href="#e" x="223.23" y="403.27"/><use href="#e" x="223.23" y="401.67"/><use href="#e" x="223.23" y="400.08"/><use href="#e" x="223.23" y="398.49"/><use href="#e" x="223.23" y="396.89"/><use href="#e" x="223.23" y="395.3"/><use href="#e" x="223.23" y="393.7"/><use href="#d" x="223.23" y="380.42"/><use href="#d" x="223.23" y="347.47"/><use href="#e" x="236.43" y="453.22"/><use href="#e" x="236.43" y="451.63"/><use href="#e" x="236.43" y="450.04"/><use href="#e" x="236.43" y="448.44"/><use href="#e" x="236.43" y="446.85"/><use href="#e" x="236.43" y="445.25"/><use href="#e" x="236.43" y="443.66"/><use href="#e" x="236.43" y="442.06"/><use href="#e" x="236.43" y="440.47"/><use href="#e" x="236.43" y="438.88"/><use href="#e" x="236.43" y="437.28"/><use href="#d" x="236.43" y="427.72"/><use href="#d" x="236.43" y="414.43"/><use href="#d" x="236.43" y="521.78"/><use href="#d" x="236.43" y="524.97"/><use href="#e" x="254.86" y="435.16"/><use href="#e" x="254.86" y="433.56"/><use href="#e" x="254.86" y="431.97"/><use href="#e" x="254.86" y="430.37"/><use href="#e" x="254.86" y="428.78"/><use href="#e" x="254.86" y="427.18"/><use href="#e" x="254.86" y="425.59"/><use href="#e" x="254.86" y="423.99"/><use href="#e" x="254.86" y="422.4"/><use href="#e" x="254.86" y="420.81"/><use href="#e" x="254.86" y="419.21"/><use href="#e" x="254.86" y="417.62"/><use href="#e" x="254.86" y="416.02"/><use href="#e" x="254.86" y="414.43"/><use href="#e" x="254.86" y="412.83"/><use href="#e" x="254.86" y="411.24"/><use href="#e" x="254.86" y="409.65"/><use href="#e" x="254.86" y="408.05"/><use href="#e" x="254.86" y="406.46"/><use href="#e" x="254.86" y="404.86"/><use href="#e" x="254.86" y="403.27"/><use href="#e" x="254.86" y="401.67"/><use href="#e" x="254.86" y="400.08"/><use href="#e" x="254.86" y="398.49"/><use href="#e" x="254.86" y="396.89"/><use href="#e" x="254.86" y="395.3"/><use href="#e" x="254.86" y="393.7"/><use href="#e" x="254.86" y="392.11"/><use href="#e" x="254.86" y="390.51"/><use href="#d" x="254.86" y="510.09"/><use href="#d" x="254.86" y="512.22"/><use href="#e" x="268.06" y="459.6"/><use href="#e" x="268.06" y="458.01"/><use href="#e" x="268.06" y="456.41"/><use href="#e" x="268.06" y="454.82"/><use href="#e" x="268.06" y="453.22"/><use href="#e" x="268.06" y="451.63"/><use href="#e" x="268.06" y="450.04"/><use href="#e" x="268.06" y="448.44"/><use href="#e" x="268.06" y="446.85"/><use href="#e" x="268.06" y="445.25"/><use href="#e" x="268.06" y="443.66"/><use href="#e" x="268.06" y="442.06"/><use href="#e" x="268.06" y="440.47"/><use href="#e" x="268.06" y="438.88"/><use href="#e" x="268.06" y="437.28"/><use href="#e" x="268.06" y="435.69"/><use href="#e" x="268.06" y="434.09"/><use href="#e" x="268.06" y="432.5"/><use href="#e" x="268.06" y="430.9"/><use href="#e" x="268.06" y="429.31"/><use href="#d" x="268.06" y="517.53"/><use href="#e" x="286.5" y="434.09"/><use href="#e" x="286.5" y="432.5"/><use href="#e" x="286.5" y="430.9"/><use href="#e" x="286.5" y="429.31"/><use href="#e" x="286.5" y="427.72"/><use href="#e" x="286.5" y="426.12"/><use href="#e" x="286.5" y="424.53"/><use href="#e" x="286.5" y="422.93"/><use href="#e" x="286.5" y="421.34"/><use href="#e" x="286.5" y="419.74"/><use href="#e" x="286.5" y="418.15"/><use href="#e" x="286.5" y="416.55"/><use href="#e" x="286.5" y="414.96"/><use href="#e" x="286.5" y="413.37"/><use href="#e" x="286.5" y="411.77"/><use href="#e" x="286.5" y="410.18"/><use href="#e" x="286.5" y="408.58"/><use href="#e" x="286.5" y="406.99"/><use href="#e" x="286.5" y="405.39"/><use href="#e" x="286.5" y="403.8"/><use href="#e" x="286.5" y="402.21"/><use href="#e" x="286.5" y="400.61"/><use href="#e" x="286.5" y="399.02"/><use href="#e" x="286.5" y="397.42"/><use href="#e" x="286.5" y="395.83"/><use href="#e" x="286.5" y="394.23"/><use href="#e" x="286.5" y="392.64"/><use href="#e" x="286.5" y="391.05"/><use href="#d" x="286.5" y="378.82"/><use href="#e" x="299.7" y="460.66"/><use href="#e" x="299.7" y="459.07"/><use href="#e" x="299.7" y="457.48"/><use href="#e" x="299.7" y="455.88"/><use href="#e" x="299.7" y="454.29"/><use href="#e" x="299.7" y="452.69"/><use href="#e" x="299.7" y="451.1"/><use href="#e" x="299.7" y="449.5"/><use href="#e" x="299.7" y="447.91"/><use href="#e" x="299.7" y="446.32"/><use href="#e" x="299.7" y="444.72"/><use href="#e" x="299.7" y="443.13"/><use href="#e" x="299.7" y="441.53"/><use href="#e" x="299.7" y="439.94"/><use href="#e" x="299.7" y="438.34"/><use href="#e" x="299.7" y="436.75"/><use href="#e" x="299.7" y="435.16"/><use href="#e" x="299.7" y="433.56"/><use href="#e" x="299.7" y="431.97"/><use href="#e" x="299.7" y="430.37"/><use href="#e" x="299.7" y="428.78"/><use href="#e" x="299.7" y="427.18"/><use href="#e" x="299.7" y="425.59"/><use href="#e" x="299.7" y="423.99"/><use href="#d" x="299.7" y="517.53"/><use href="#e" x="318.13" y="433.03"/><use href="#e" x="318.13" y="431.44"/><use href="#e" x="318.13" y="429.84"/><use href="#e" x="318.13" y="428.25"/><use href="#e" x="318.13" y="426.65"/><use href="#e" x="318.13" y="425.06"/><use href="#e" x="318.13" y="423.46"/><use href="#e" x="318.13" y="421.87"/><use href="#e" x="318.13" y="420.27"/><use href="#e" x="318.13" y="418.68"/><use href="#e" x="318.13" y="417.09"/><use href="#e" x="318.13" y="415.49"/><use href="#e" x="318.13" y="413.9"/><use href="#e" x="318.13" y="412.3"/><use href="#e" x="318.13" y="410.71"/><use href="#e" x="318.13" y="409.11"/><use href="#e" x="318.13" y="407.52"/><use href="#e" x="318.13" y="405.93"/><use href="#e" x="318.13" y="404.33"/><use href="#e" x="318.13" y="402.74"/><use href="#e" x="318.13" y="401.14"/><use href="#e" x="318.13" y="399.55"/><use href="#d" x="318.13" y="392.64"/><use href="#d" x="318.13" y="378.29"/><use href="#d" x="318.13" y="363.41"/><use href="#e" x="331.33" y="459.6"/><use href="#e" x="331.33" y="458.01"/><use href="#e" x="331.33" y="456.41"/><use href="#e" x="331.33" y="454.82"/><use href="#e" x="331.33" y="453.22"/><use href="#e" x="331.33" y="451.63"/><use href="#e" x="331.33" y="450.04"/><use href="#e" x="331.33" y="448.44"/><use href="#e" x="331.33" y="446.85"/><use href="#e" x="331.33" y="445.25"/><use href="#e" x="331.33" y="443.66"/><use href="#e" x="331.33" y="442.06"/><use href="#e" x="331.33" y="440.47"/><use href="#e" x="331.33" y="438.88"/><use href="#e" x="331.33" y="437.28"/><use href="#e" x="331.33" y="435.69"/><use href="#e" x="331.33" y="434.09"/><use href="#e" x="331.33" y="432.5"/><use href="#e" x="331.33" y="430.9"/><use href="#e" x="331.33" y="429.31"/><use href="#e" x="331.33" y="427.72"/><use href="#e" x="331.33" y="426.12"/><use href="#e" x="331.33" y="424.53"/><use href="#e" x="331.33" y="422.93"/><use href="#d" x="331.33" y="414.43"/><use href="#d" x="331.33" y="406.99"/><use href="#d" x="331.33" y="396.36"/><use href="#e" x="331.33" y="514.34"/><use href="#e" x="331.33" y="515.94"/><use href="#e" x="331.33" y="517.53"/><use href="#e" x="331.33" y="519.12"/><use href="#e" x="349.76" y="431.97"/><use href="#e" x="349.76" y="430.37"/><use href="#e" x="349.76" y="428.78"/><use href="#e" x="349.76" y="427.18"/><use href="#e" x="349.76" y="425.59"/><use href="#e" x="349.76" y="423.99"/><use href="#e" x="349.76" y="422.4"/><use href="#e" x="349.76" y="420.81"/><use href="#e" x="349.76" y="419.21"/><use href="#e" x="349.76" y="417.62"/><use href="#e" x="349.76" y="416.02"/><use href="#e" x="349.76" y="414.43"/><use href="#e" x="349.76" y="412.83"/><use href="#e" x="349.76" y="411.24"/><use href="#e" x="349.76" y="409.65"/><use href="#e" x="349.76" y="408.05"/><use href="#e" x="349.76" y="406.46"/><use href="#e" x="349.76" y="404.86"/><use href="#e" x="349.76" y="403.27"/><use href="#e" x="349.76" y="401.67"/><use href="#e" x="349.76" y="400.08"/><use href="#e" x="349.76" y="398.49"/><use href="#e" x="349.76" y="396.89"/><use href="#e" x="349.76" y="395.3"/><use href="#e" x="349.76" y="393.7"/><use href="#e" x="349.76" y="392.11"/><use href="#e" x="349.76" y="390.51"/><use href="#e" x="349.76" y="388.92"/><use href="#e" x="349.76" y="387.32"/><use href="#e" x="349.76" y="385.73"/><use href="#e" x="349.76" y="384.14"/><use href="#d" x="349.76" y="369.79"/><use href="#d" x="349.76" y="363.41"/><use href="#e" x="362.97" y="458.01"/><use href="#e" x="362.97" y="456.41"/><use href="#e" x="362.97" y="454.82"/><use href="#e" x="362.97" y="453.22"/><use href="#e" x="362.97" y="451.63"/><use href="#e" x="362.97" y="450.04"/><use href="#e" x="362.97" y="448.44"/><use href="#e" x="362.97" y="446.85"/><use href="#e" x="362.97" y="445.25"/><use href="#e" x="362.97" y="443.66"/><use href="#e" x="362.97" y="442.06"/><use href="#e" x="362.97" y="440.47"/><use href="#e" x="362.97" y="438.88"/><use href="#e" x="362.97" y="437.28"/><use href="#e" x="362.97" y="435.69"/><use href="#e" x="362.97" y="434.09"/><use href="#e" x="362.97" y="432.5"/><use href="#e" x="362.97" y="430.9"/><use href="#e" x="362.97" y="429.31"/><use href="#e" x="362.97" y="427.72"/><use href="#e" x="362.97" y="426.12"/><use href="#e" x="362.97" y="424.53"/><use href="#e" x="362.97" y="422.93"/><use href="#e" x="362.97" y="421.34"/><use href="#e" x="362.97" y="419.74"/><use href="#e" x="362.97" y="418.15"/><use href="#e" x="362.97" y="416.55"/><use href="#e" x="362.97" y="414.96"/><use href="#e" x="362.97" y="413.37"/><use href="#e" x="362.97" y="411.77"/><use href="#e" x="362.97" y="410.18"/><use href="#e" x="362.97" y="408.58"/><use href="#e" x="362.97" y="406.99"/><use href="#d" x="362.97" y="396.36"/><use href="#e" x="362.97" y="515.94"/><use href="#e" x="362.97" y="517.53"/><use href="#e" x="362.97" y="519.12"/><use href="#e" x="381.4" y="431.44"/><use href="#e" x="381.4" y="429.84"/><use href="#e" x="381.4" y="428.25"/><use href="#e" x="381.4" y="426.65"/><use href="#e" x="381.4" y="425.06"/><use href="#e" x="381.4" y="423.46"/><use href="#e" x="381.4" y="421.87"/><use href="#e" x="381.4" y="420.27"/><use href="#e" x="381.4" y="418.68"/><use href="#e" x="381.4" y="417.09"/><use href="#e" x="381.4" y="415.49"/><use href="#e" x="381.4" y="413.9"/><use href="#e" x="381.4" y="412.3"/><use href="#e" x="381.4" y="410.71"/><use href="#e" x="381.4" y="409.11"/><use href="#e" x="381.4" y="407.52"/><use href="#e" x="381.4" y="405.93"/><use href="#e" x="381.4" y="404.33"/><use href="#e" x="381.4" y="402.74"/><use href="#e" x="381.4" y="401.14"/><use href="#e" x="381.4" y="399.55"/><use href="#e" x="381.4" y="397.95"/><use href="#e" x="381.4" y="396.36"/><use href="#e" x="381.4" y="394.77"/><use href="#e" x="381.4" y="393.17"/><use href="#e" x="381.4" y="391.58"/><use href="#e" x="381.4" y="389.98"/><use href="#e" x="381.4" y="388.39"/><use href="#e" x="381.4" y="386.79"/><use href="#e" x="381.4" y="385.2"/><use href="#e" x="381.4" y="383.6"/><use href="#e" x="381.4" y="382.01"/><use href="#e" x="381.4" y="380.42"/><use href="#e" x="381.4" y="378.82"/><use href="#e" x="381.4" y="377.23"/><use href="#e" x="381.4" y="375.63"/><use href="#e" x="381.4" y="374.04"/><use href="#e" x="381.4" y="372.44"/><use href="#e" x="381.4" y="370.85"/><use href="#e" x="381.4" y="369.26"/><use href="#d" x="381.4" y="358.1"/><use href="#e" x="381.4" y="503.18"/><use href="#e" x="381.4" y="504.78"/><use href="#e" x="381.4" y="506.37"/><use href="#e" x="381.4" y="507.96"/><use href="#e" x="381.4" y="509.56"/><use href="#e" x="381.4" y="511.15"/><use href="#e" x="394.6" y="458.54"/><use href="#e" x="394.6" y="456.94"/><use href="#e" x="394.6" y="455.35"/><use href="#e" x="394.6" y="453.76"/><use href="#e" x="394.6" y="452.16"/><use href="#e" x="394.6" y="450.57"/><use href="#e" x="394.6" y="448.97"/><use href="#e" x="394.6" y="447.38"/><use href="#e" x="394.6" y="445.78"/><use href="#e" x="394.6" y="444.19"/><use href="#e" x="394.6" y="442.6"/><use href="#e" x="394.6" y="441"/><use href="#e" x="394.6" y="439.41"/><use href="#e" x="394.6" y="437.81"/><use href="#e" x="394.6" y="436.22"/><use href="#e" x="394.6" y="434.62"/><use href="#e" x="394.6" y="433.03"/><use href="#e" x="394.6" y="431.44"/><use href="#e" x="394.6" y="429.84"/><use href="#e" x="394.6" y="428.25"/><use href="#e" x="394.6" y="426.65"/><use href="#e" x="394.6" y="425.06"/><use href="#e" x="394.6" y="423.46"/><use href="#e" x="394.6" y="421.87"/><use href="#d" x="394.6" y="411.24"/><use href="#d" x="394.6" y="405.39"/><use href="#d" x="394.6" y="396.36"/><use href="#e" x="394.6" y="514.34"/><use href="#e" x="394.6" y="515.94"/><use href="#e" x="394.6" y="517.53"/><use href="#e" x="394.6" y="519.12"/><use href="#e" x="394.6" y="520.72"/><use href="#e" x="394.6" y="522.31"/><use href="#e" x="413.03" y="429.31"/><use href="#e" x="413.03" y="427.72"/><use href="#e" x="413.03" y="426.12"/><use href="#e" x="413.03" y="424.53"/><use href="#e" x="413.03" y="422.93"/><use href="#e" x="413.03" y="421.34"/><use href="#e" x="413.03" y="419.74"/><use href="#e" x="413.03" y="418.15"/><use href="#e" x="413.03" y="416.55"/><use href="#e" x="413.03" y="414.96"/><use href="#e" x="413.03" y="413.37"/><use href="#e" x="413.03" y="411.77"/><use href="#e" x="413.03" y="410.18"/><use href="#e" x="413.03" y="408.58"/><use href="#e" x="413.03" y="406.99"/><use href="#e" x="413.03" y="405.39"/><use href="#e" x="413.03" y="403.8"/><use href="#e" x="413.03" y="402.21"/><use href="#e" x="413.03" y="400.61"/><use href="#e" x="413.03" y="399.02"/><use href="#e" x="413.03" y="397.42"/><use href="#e" x="413.03" y="395.83"/><use href="#e" x="413.03" y="394.23"/><use href="#e" x="413.03" y="392.64"/><use href="#e" x="413.03" y="391.05"/><use href="#e" x="413.03" y="389.45"/><use href="#e" x="413.03" y="387.86"/><use href="#e" x="413.03" y="386.26"/><use href="#e" x="413.03" y="384.67"/><use href="#e" x="413.03" y="383.07"/><use href="#e" x="413.03" y="381.48"/><use href="#e" x="413.03" y="379.88"/><use href="#e" x="413.03" y="378.29"/><use href="#e" x="413.03" y="376.7"/><use href="#e" x="413.03" y="375.1"/><use href="#d" x="413.03" y="363.41"/><use href="#d" x="413.03" y="359.69"/><use href="#d" x="413.03" y="340.03"/><use href="#e" x="426.24" y="458.01"/><use href="#e" x="426.24" y="456.41"/><use href="#e" x="426.24" y="454.82"/><use href="#e" x="426.24" y="453.22"/><use href="#e" x="426.24" y="451.63"/><use href="#e" x="426.24" y="450.04"/><use href="#e" x="426.24" y="448.44"/><use href="#e" x="426.24" y="446.85"/><use href="#e" x="426.24" y="445.25"/><use href="#e" x="426.24" y="443.66"/><use href="#e" x="426.24" y="442.06"/><use href="#e" x="426.24" y="440.47"/><use href="#e" x="426.24" y="438.88"/><use href="#e" x="426.24" y="437.28"/><use href="#e" x="426.24" y="435.69"/><use href="#e" x="426.24" y="434.09"/><use href="#e" x="426.24" y="432.5"/><use href="#e" x="426.24" y="430.9"/><use href="#e" x="426.24" y="429.31"/><use href="#e" x="426.24" y="427.72"/><use href="#e" x="426.24" y="426.12"/><use href="#e" x="426.24" y="424.53"/><use href="#e" x="426.24" y="422.93"/><use href="#e" x="426.24" y="421.34"/><use href="#e" x="426.24" y="419.74"/><use href="#e" x="426.24" y="418.15"/><use href="#e" x="426.24" y="416.55"/><use href="#e" x="426.24" y="414.96"/><use href="#e" x="426.24" y="413.37"/><use href="#e" x="426.24" y="411.77"/><use href="#e" x="426.24" y="410.18"/><use href="#e" x="426.24" y="408.58"/><use href="#e" x="426.24" y="406.99"/><use href="#d" x="426.24" y="376.16"/><use href="#d" x="426.24" y="371.38"/><use href="#e" x="426.24" y="514.34"/><use href="#e" x="426.24" y="515.94"/><use href="#e" x="426.24" y="517.53"/><use href="#e" x="426.24" y="519.12"/><use href="#e" x="426.24" y="520.72"/><use href="#e" x="444.67" y="429.31"/><use href="#e" x="444.67" y="427.72"/><use href="#e" x="444.67" y="426.12"/><use href="#e" x="444.67" y="424.53"/><use href="#e" x="444.67" y="422.93"/><use href="#e" x="444.67" y="421.34"/><use href="#e" x="444.67" y="419.74"/><use href="#e" x="444.67" y="418.15"/><use href="#e" x="444.67" y="416.55"/><use href="#e" x="444.67" y="414.96"/><use href="#e" x="444.67" y="413.37"/><use href="#e" x="444.67" y="411.77"/><use href="#e" x="444.67" y="410.18"/><use href="#e" x="444.67" y="408.58"/><use href="#e" x="444.67" y="406.99"/><use href="#e" x="444.67" y="405.39"/><use href="#e" x="444.67" y="403.8"/><use href="#e" x="444.67" y="402.21"/><use href="#e" x="444.67" y="400.61"/><use href="#e" x="444.67" y="399.02"/><use href="#e" x="444.67" y="397.42"/><use href="#e" x="444.67" y="395.83"/><use href="#e" x="444.67" y="394.23"/><use href="#e" x="444.67" y="392.64"/><use href="#e" x="444.67" y="391.05"/><use href="#e" x="444.67" y="389.45"/><use href="#e" x="444.67" y="387.86"/><use href="#e" x="444.67" y="386.26"/><use href="#e" x="444.67" y="384.67"/><use href="#e" x="444.67" y="383.07"/><use href="#e" x="444.67" y="381.48"/><use href="#e" x="444.67" y="379.88"/><use href="#e" x="444.67" y="378.29"/><use href="#e" x="444.67" y="376.7"/><use href="#e" x="444.67" y="375.1"/><use href="#e" x="444.67" y="373.51"/><use href="#e" x="444.67" y="371.91"/><use href="#e" x="444.67" y="370.32"/><use href="#e" x="444.67" y="368.72"/><use href="#d" x="444.67" y="323.02"/><use href="#e" x="457.87" y="456.94"/><use href="#e" x="457.87" y="455.35"/><use href="#e" x="457.87" y="453.76"/><use href="#e" x="457.87" y="452.16"/><use href="#e" x="457.87" y="450.57"/><use href="#e" x="457.87" y="448.97"/><use href="#e" x="457.87" y="447.38"/><use href="#e" x="457.87" y="445.78"/><use href="#e" x="457.87" y="444.19"/><use href="#e" x="457.87" y="442.6"/><use href="#e" x="457.87" y="441"/><use href="#e" x="457.87" y="439.41"/><use href="#e" x="457.87" y="437.81"/><use href="#e" x="457.87" y="436.22"/><use href="#e" x="457.87" y="434.62"/><use href="#e" x="457.87" y="433.03"/><use href="#e" x="457.87" y="431.44"/><use href="#e" x="457.87" y="429.84"/><use href="#e" x="457.87" y="428.25"/><use href="#e" x="457.87" y="426.65"/><use href="#e" x="457.87" y="425.06"/><use href="#e" x="457.87" y="423.46"/><use href="#e" x="457.87" y="421.87"/><use href="#e" x="457.87" y="420.27"/><use href="#e" x="457.87" y="418.68"/><use href="#e" x="457.87" y="417.09"/><use href="#e" x="457.87" y="415.49"/><use href="#e" x="457.87" y="413.9"/><use href="#e" x="457.87" y="412.3"/><use href="#e" x="457.87" y="410.71"/><use href="#e" x="457.87" y="409.11"/><use href="#e" x="457.87" y="407.52"/><use href="#e" x="457.87" y="405.93"/><use href="#e" x="457.87" y="404.33"/><use href="#e" x="457.87" y="402.74"/><use href="#e" x="457.87" y="401.14"/><use href="#e" x="457.87" y="399.55"/><use href="#e" x="457.87" y="397.95"/><use href="#e" x="457.87" y="396.36"/><use href="#d" x="457.87" y="376.16"/><use href="#d" x="457.87" y="371.38"/><use href="#e" x="457.87" y="514.34"/><use href="#e" x="457.87" y="515.94"/><use href="#e" x="457.87" y="517.53"/><use href="#e" x="457.87" y="519.12"/><use href="#e" x="457.87" y="520.72"/><use href="#e" x="457.87" y="522.31"/><use href="#e" x="476.3" y="427.72"/><use href="#e" x="476.3" y="426.12"/><use href="#e" x="476.3" y="424.53"/><use href="#e" x="476.3" y="422.93"/><use href="#e" x="476.3" y="421.34"/><use href="#e" x="476.3" y="419.74"/><use href="#e" x="476.3" y="418.15"/><use href="#e" x="476.3" y="416.55"/><use href="#e" x="476.3" y="414.96"/><use href="#e" x="476.3" y="413.37"/><use href="#e" x="476.3" y="411.77"/><use href="#e" x="476.3" y="410.18"/><use href="#e" x="476.3" y="408.58"/><use href="#e" x="476.3" y="406.99"/><use href="#e" x="476.3" y="405.39"/><use href="#e" x="476.3" y="403.8"/><use href="#e" x="476.3" y="402.21"/><use href="#e" x="476.3" y="400.61"/><use href="#e" x="476.3" y="399.02"/><use href="#e" x="476.3" y="397.42"/><use href="#e" x="476.3" y="395.83"/><use href="#e" x="476.3" y="394.23"/><use href="#e" x="476.3" y="392.64"/><use href="#e" x="476.3" y="391.05"/><use href="#e" x="476.3" y="389.45"/><use href="#e" x="476.3" y="387.86"/><use href="#e" x="476.3" y="386.26"/><use href="#e" x="476.3" y="384.67"/><use href="#e" x="476.3" y="383.07"/><use href="#e" x="476.3" y="381.48"/><use href="#e" x="476.3" y="379.88"/><use href="#d" x="476.3" y="370.85"/><use href="#d" x="476.3" y="323.02"/><use href="#e" x="489.5" y="456.94"/><use href="#e" x="489.5" y="455.35"/><use href="#e" x="489.5" y="453.76"/><use href="#e" x="489.5" y="452.16"/><use href="#e" x="489.5" y="450.57"/><use href="#e" x="489.5" y="448.97"/><use href="#e" x="489.5" y="447.38"/><use href="#e" x="489.5" y="445.78"/><use href="#e" x="489.5" y="444.19"/><use href="#e" x="489.5" y="442.6"/><use href="#e" x="489.5" y="441"/><use href="#e" x="489.5" y="439.41"/><use href="#e" x="489.5" y="437.81"/><use href="#e" x="489.5" y="436.22"/><use href="#e" x="489.5" y="434.62"/><use href="#e" x="489.5" y="433.03"/><use href="#e" x="489.5" y="431.44"/><use href="#e" x="489.5" y="429.84"/><use href="#e" x="489.5" y="428.25"/><use href="#e" x="489.5" y="426.65"/><use href="#e" x="489.5" y="425.06"/><use href="#e" x="489.5" y="423.46"/><use href="#e" x="489.5" y="421.87"/><use href="#e" x="489.5" y="420.27"/><use href="#e" x="489.5" y="418.68"/><use href="#e" x="489.5" y="417.09"/><use href="#e" x="489.5" y="415.49"/><use href="#e" x="489.5" y="413.9"/><use href="#e" x="489.5" y="412.3"/><use href="#e" x="489.5" y="410.71"/><use href="#e" x="489.5" y="409.11"/><use href="#e" x="489.5" y="407.52"/><use href="#e" x="489.5" y="405.93"/><use href="#e" x="489.5" y="404.33"/><use href="#e" x="489.5" y="402.74"/><use href="#e" x="489.5" y="401.14"/><use href="#e" x="489.5" y="399.55"/><use href="#e" x="489.5" y="397.95"/><use href="#e" x="489.5" y="396.36"/><use href="#d" x="489.5" y="385.73"/><use href="#e" x="489.5" y="514.34"/><use href="#e" x="489.5" y="515.94"/><use href="#e" x="489.5" y="517.53"/><use href="#e" x="507.94" y="426.65"/><use href="#e" x="507.94" y="425.06"/><use href="#e" x="507.94" y="423.46"/><use href="#e" x="507.94" y="421.87"/><use href="#e" x="507.94" y="420.27"/><use href="#e" x="507.94" y="418.68"/><use href="#e" x="507.94" y="417.09"/><use href="#e" x="507.94" y="415.49"/><use href="#e" x="507.94" y="413.9"/><use href="#e" x="507.94" y="412.3"/><use href="#e" x="507.94" y="410.71"/><use href="#e" x="507.94" y="409.11"/><use href="#e" x="507.94" y="407.52"/><use href="#e" x="507.94" y="405.93"/><use href="#e" x="507.94" y="404.33"/><use href="#e" x="507.94" y="402.74"/><use href="#e" x="507.94" y="401.14"/><use href="#e" x="507.94" y="399.55"/><use href="#e" x="507.94" y="397.95"/><use href="#e" x="507.94" y="396.36"/><use href="#e" x="507.94" y="394.77"/><use href="#e" x="507.94" y="393.17"/><use href="#e" x="507.94" y="391.58"/><use href="#e" x="507.94" y="389.98"/><use href="#e" x="507.94" y="388.39"/><use href="#e" x="507.94" y="386.79"/><use href="#e" x="507.94" y="385.2"/><use href="#e" x="507.94" y="383.6"/><use href="#e" x="507.94" y="382.01"/><use href="#e" x="507.94" y="380.42"/><use href="#e" x="507.94" y="378.82"/><use href="#e" x="507.94" y="377.23"/><use href="#e" x="507.94" y="375.63"/><use href="#e" x="507.94" y="374.04"/><use href="#e" x="507.94" y="372.44"/><use href="#e" x="507.94" y="370.85"/><use href="#e" x="507.94" y="369.26"/><use href="#e" x="521.14" y="456.94"/><use href="#e" x="521.14" y="455.35"/><use href="#e" x="521.14" y="453.76"/><use href="#e" x="521.14" y="452.16"/><use href="#e" x="521.14" y="450.57"/><use href="#e" x="521.14" y="448.97"/><use href="#e" x="521.14" y="447.38"/><use href="#e" x="521.14" y="445.78"/><use href="#e" x="521.14" y="444.19"/><use href="#e" x="521.14" y="442.6"/><use href="#e" x="521.14" y="441"/><use href="#e" x="521.14" y="439.41"/><use href="#e" x="521.14" y="437.81"/><use href="#e" x="521.14" y="436.22"/><use href="#e" x="521.14" y="434.62"/><use href="#e" x="521.14" y="433.03"/><use href="#e" x="521.14" y="431.44"/><use href="#e" x="521.14" y="429.84"/><use href="#e" x="521.14" y="428.25"/><use href="#e" x="521.14" y="426.65"/><use href="#e" x="521.14" y="425.06"/><use href="#e" x="521.14" y="423.46"/><use href="#e" x="521.14" y="421.87"/><use href="#e" x="521.14" y="420.27"/><use href="#e" x="521.14" y="418.68"/><use href="#e" x="521.14" y="417.09"/><use href="#e" x="521.14" y="415.49"/><use href="#e" x="521.14" y="413.9"/><use href="#e" x="521.14" y="412.3"/><use href="#e" x="521.14" y="410.71"/><use href="#e" x="521.14" y="409.11"/><use href="#e" x="521.14" y="407.52"/><use href="#e" x="521.14" y="405.93"/><use href="#e" x="521.14" y="404.33"/><use href="#e" x="521.14" y="402.74"/><use href="#e" x="521.14" y="401.14"/><use href="#e" x="521.14" y="399.55"/><use href="#e" x="521.14" y="514.34"/><use href="#e" x="521.14" y="515.94"/><use href="#e" x="521.14" y="517.53"/><use href="#e" x="521.14" y="519.12"/><use href="#e" x="521.14" y="520.72"/></g>
<path d="M71.5 474.2L798.3 460.5" stroke="#4a6dab" stroke-width="1.3" stroke-dasharray="5.6 2.4" fill="none"/>
<path d="M71.5 490.9L798.3 480.5" stroke="#be4b50" stroke-width="1.3" stroke-dasharray="5.6 2.4" fill="none"/>
<rect x="49.5" y="313.5" width="784" height="221" fill="none" stroke="#cccccc" stroke-width="1.2"/>
<rect x="779.3" y="318.5" width="49.2" height="34.7" rx="2" ry="2" fill="#ffffff" fill-opacity="0.8" stroke="#cccccc" stroke-width="0.9"/>
<rect x="783.1" y="323.7" width="22.2" height="7.8" fill="#5875a4" stroke="#444444" stroke-width="0.7"/>
<rect x="783.1" y="338.7" width="22.2" height="7.8" fill="#cc8963" stroke="#444444" stroke-width="0.7"/>
<text x="814.9" y="331.2" font-size="10.4">M</text>
<text x="814.9" y="346" font-size="10.4">F</text>
</g>
<g>
<text x="441.5" y="593.6" font-size="16" text-anchor="middle">Olympian age over time</text>
<path d="M49.5 815.5H833.5M49.5 781.5H833.5M49.5 748.5H833.5M49.5 714.5H833.5M49.5 681.5H833.5M49.5 647.5H833.5M49.5 614.5H833.5" stroke="#cccccc" stroke-width="1" fill="none"/>
<g font-size="10.4" text-anchor="end">
<text x="39.3" y="819.25">10</text>
<text x="39.3" y="785.25">20</text>
<text x="39.3" y="752.25">30</text>
<text x="39.3" y="718.25">40</text>
<text x="39.3" y="685.25">50</text>
<text x="39.3" y="651.25">60</text>
<text x="39.3" y="618.25">70</text>
</g>
<g font-size="10.4" text-anchor="middle">
<text x="70.75" y="838.8">1960</text>
<text x="102.39" y="838.8">1964</text>
<text x="134.02" y="838.8">1968</text>
<text x="165.66" y="838.8">1972</text>
<text x="197.29" y="838.8">1976</text>
<text x="228.93" y="838.8">1980</text>
<text x="260.56" y="838.8">1984</text>
<text x="292.2" y="838.8">1988</text>
<text x="323.83" y="838.8">1992</text>
<text x="355.47" y="838.8">1996</text>
<text x="387.1" y="838.8">2000</text>
<text x="418.74" y="838.8">2004</text>
<text x="450.37" y="838.8">2008</text>
<text x="482" y="838.8">2012</text>
<text x="513.64" y="838.8">2016</text>
<text x="545.28" y="838.8">2020</text>
<text x="576.91" y="838.8">2024</text>
<text x="608.55" y="838.8">2028</text>
<text x="640.18" y="838.8">2032</text>
<text x="671.82" y="838.8">2036</text>
<text x="703.45" y="838.8">2040</text>
<text x="735.09" y="838.8">2044</text>
<text x="766.72" y="838.8">2048</text>
<text x="798.36" y="838.8">2052</text>
</g>
<text x="441.5" y="852.8" font-size="11.3" text-anchor="middle">Year</text>
<text transform="translate(20.2 711.3) rotate(-90)" font-size="11.3" text-anchor="middle">Age</text>
<g stroke="#444444" stroke-width="1.45"><rect x="59.05" y="751.4" width="12" height="23.45" fill="#5875a4"/><rect x="72.25" y="768.15" width="12" height="20.1" fill="#cc8963"/><rect x="90.69" y="754.75" width="12" height="20.1" fill="#5875a4"/><rect x="103.89" y="764.8" width="12" height="23.45" fill="#cc8963"/><rect x="122.32" y="754.75" width="12" height="23.45" fill="#5875a4"/><rect x="135.52" y="771.5" width="12" height="20.1" fill="#cc8963"/><rect x="153.96" y="754.75" width="12" height="20.1" fill="#5875a4"/><rect x="167.16" y="771.5" width="12" height="20.1" fill="#cc8963"/><rect x="185.59" y="758.1" width="12" height="20.1" fill="#5875a4"/><rect x="198.79" y="768.15" width="12" height="23.45" fill="#cc8963"/><rect x="217.23" y="758.1" width="12" height="20.1" fill="#5875a4"/><rect x="230.43" y="768.15" width="12" height="23.45" fill="#cc8963"/><rect x="248.86" y="758.1" width="12" height="20.1" fill="#5875a4"/><rect x="262.06" y="764.8" width="12" height="23.45" fill="#cc8963"/><rect x="280.5" y="758.1" width="12" height="20.1" fill="#5875a4"/><rect x="293.7" y="764.8" width="12" height="23.45" fill="#cc8963"/><rect x="312.13" y="754.75" width="12" height="20.1" fill="#5875a4"/><rect x="325.33" y="761.45" width="12" height="23.45" fill="#cc8963"/><rect x="343.76" y="754.75" width="12" height="20.1" fill="#5875a4"/><rect x="356.97" y="758.1" width="12" height="26.8" fill="#cc8963"/><rect x="375.4" y="751.4" width="12" height="23.45" fill="#5875a4"/><rect x="388.6" y="754.75" width="12" height="26.8" fill="#cc8963"/><rect x="407.03" y="751.4" width="12" height="20.1" fill="#5875a4"/><rect x="420.24" y="754.75" width="12" height="23.45" fill="#cc8963"/><rect x="438.67" y="751.4" width="12" height="20.1" fill="#5875a4"/><rect x="451.87" y="754.75" width="12" height="23.45" fill="#cc8963"/><rect x="470.3" y="751.4" width="12" height="20.1" fill="#5875a4"/><rect x="483.5" y="754.75" width="12" height="23.45" fill="#cc8963"/><rect x="501.94" y="748.05" width="12" height="23.45" fill="#5875a4"/><rect x="515.14" y="751.4" width="12" height="23.45" fill="#cc8963"/></g>
<path d="M65.05 751.4V717.9M65.05 774.85V805M61.95 717.9H68.15M61.95 805H68.15M59.05 764.8H71.05M78.25 768.15V738M78.25 788.25V808.35M75.15 738H81.35M75.15 808.35H81.35M72.25 778.2H84.25M96.69 754.75V722.59M96.69 774.85V801.65M93.59 722.59H99.79M93.59 801.65H99.79M90.69 764.8H102.69M109.89 764.8V731.3M109.89 788.25V808.35M106.79 731.3H112.98M106.79 808.35H112.98M103.89 778.2H115.89M128.32 754.75V721.25M128.32 778.2V805M125.22 721.25H131.42M125.22 805H131.42M122.32 768.15H134.32M141.52 771.5V741.35M141.52 791.6V811.7M138.42 741.35H144.62M138.42 811.7H144.62M135.52 781.55H147.52M159.96 754.75V724.6M159.96 774.85V805M156.86 724.6H163.06M156.86 805H163.06M153.96 768.15H165.96M173.16 771.5V741.35M173.16 791.6V805M170.06 741.35H176.25M170.06 805H176.25M167.16 784.9H179.16M191.59 758.1V727.95M191.59 778.2V801.65M188.49 727.95H194.69M188.49 801.65H194.69M185.59 768.15H197.59M204.79 768.15V734.65M204.79 791.6V808.35M201.69 734.65H207.89M201.69 808.35H207.89M198.79 781.55H210.79M223.23 758.1V727.95M223.23 778.2V805M220.13 727.95H226.33M220.13 805H226.33M217.23 768.15H229.23M236.43 768.15V734.65M236.43 791.6V805M233.33 734.65H239.53M233.33 805H239.53M230.43 781.55H242.43M254.86 758.1V727.95M254.86 778.2V808.35M251.76 727.95H257.96M251.76 808.35H257.96M248.86 768.15H260.86M268.06 764.8V731.3M268.06 788.25V805M264.96 731.3H271.16M264.96 805H271.16M262.06 778.2H274.06M286.5 758.1V727.95M286.5 778.2V805M283.39 727.95H289.6M283.39 805H289.6M280.5 768.15H292.5M299.7 764.8V731.3M299.7 788.25V805M296.6 731.3H302.8M296.6 805H302.8M293.7 774.85H305.7M318.13 754.75V724.6M318.13 774.85V801.65M315.03 724.6H321.23M315.03 801.65H321.23M312.13 768.15H324.13M331.33 761.45V727.95M331.33 784.9V808.35M328.23 727.95H334.43M328.23 808.35H334.43M325.33 774.85H337.33M349.76 754.75V724.6M349.76 774.85V801.65M346.66 724.6H352.87M346.66 801.65H352.87M343.76 764.8H355.76M362.97 758.1V717.9M362.97 784.9V808.35M359.87 717.9H366.07M359.87 808.35H366.07M356.97 771.5H368.97M381.4 751.4V717.9M381.4 774.85V801.65M378.3 717.9H384.5M378.3 801.65H384.5M375.4 764.8H387.4M394.6 754.75V714.55M394.6 781.55V805M391.5 714.55H397.7M391.5 805H397.7M388.6 768.15H400.6M413.03 751.4V721.25M413.03 771.5V801.65M409.93 721.25H416.13M409.93 801.65H416.13M407.03 764.8H419.03M426.24 754.75V721.25M426.24 778.2V805M423.13 721.25H429.34M423.13 805H429.34M420.24 768.15H432.24M444.67 751.4V721.25M444.67 771.5V801.65M441.57 721.25H447.77M441.57 801.65H447.77M438.67 764.8H450.67M457.87 754.75V721.25M457.87 778.2V808.35M454.77 721.25H460.97M454.77 808.35H460.97M451.87 768.15H463.87M476.3 751.4V721.25M476.3 771.5V798.3M473.2 721.25H479.4M473.2 798.3H479.4M470.3 761.45H482.3M489.5 754.75V721.25M489.5 778.2V805M486.4 721.25H492.61M486.4 805H492.61M483.5 764.8H495.5M507.94 748.05V714.55M507.94 771.5V801.65M504.84 714.55H511.04M504.84 801.65H511.04M501.94 761.45H513.94M521.14 751.4V717.9M521.14 774.85V805M518.04 717.9H524.24M518.04 805H524.24M515.14 764.8H527.14" stroke="#444444" stroke-width="1.45" stroke-linecap="square" fill="none"/>
<g><use href="#e" x="65.05" y="714.55"/><use href="#e" x="65.05" y="711.2"/><use href="#e" x="65.05" y="707.85"/><use href="#e" x="65.05" y="704.5"/><use href="#e" x="65.05" y="701.15"/><use href="#e" x="65.05" y="697.8"/><use href="#e" x="65.05" y="694.45"/><use href="#e" x="65.05" y="691.1"/><use href="#e" x="65.05" y="687.75"/><use href="#e" x="65.05" y="684.4"/><use href="#e" x="65.05" y="681.05"/><use href="#e" x="65.05" y="677.7"/><use href="#e" x="65.05" y="674.35"/><use href="#e" x="65.05" y="671"/><use href="#e" x="65.05" y="667.65"/><use href="#e" x="65.05" y="664.3"/><use href="#e" x="65.05" y="660.95"/><use href="#e" x="65.05" y="657.6"/><use href="#e" x="65.05" y="654.25"/><use href="#e" x="65.05" y="650.9"/><use href="#e" x="65.05" y="647.55"/><use href="#e" x="65.05" y="644.2"/><use href="#e" x="65.05" y="640.85"/><use href="#e" x="65.05" y="637.5"/><use href="#e" x="65.05" y="634.15"/><use href="#e" x="78.25" y="734.65"/><use href="#e" x="78.25" y="731.3"/><use href="#e" x="78.25" y="727.95"/><use href="#e" x="78.25" y="724.6"/><use href="#e" x="78.25" y="721.25"/><use href="#e" x="78.25" y="717.9"/><use href="#e" x="78.25" y="714.55"/><use href="#e" x="78.25" y="711.2"/><use href="#e" x="78.25" y="707.85"/><use href="#e" x="78.25" y="704.5"/><use href="#d" x="78.25" y="687.75"/><use href="#d" x="78.25" y="630.8"/><use href="#e" x="96.69" y="719.24"/><use href="#e" x="96.69" y="715.89"/><use href="#e" x="96.69" y="712.54"/><use href="#e" x="96.69" y="709.19"/><use href="#e" x="96.69" y="705.84"/><use href="#e" x="96.69" y="702.49"/><use href="#e" x="96.69" y="699.14"/><use href="#e" x="96.69" y="695.79"/><use href="#e" x="96.69" y="692.44"/><use href="#e" x="96.69" y="689.09"/><use href="#e" x="96.69" y="685.74"/><use href="#e" x="96.69" y="682.39"/><use href="#e" x="96.69" y="679.04"/><use href="#e" x="96.69" y="675.69"/><use href="#e" x="96.69" y="672.34"/><use href="#e" x="96.69" y="668.99"/><use href="#e" x="96.69" y="665.64"/><use href="#e" x="96.69" y="662.29"/><use href="#e" x="96.69" y="658.94"/><use href="#e" x="96.69" y="655.59"/><use href="#e" x="96.69" y="652.24"/><use href="#e" x="96.69" y="648.89"/><use href="#e" x="109.89" y="727.95"/><use href="#e" x="109.89" y="724.6"/><use href="#e" x="109.89" y="721.25"/><use href="#e" x="109.89" y="717.9"/><use href="#e" x="109.89" y="714.55"/><use href="#e" x="128.32" y="717.9"/><use href="#e" x="128.32" y="714.55"/><use href="#e" x="128.32" y="711.2"/><use href="#e" x="128.32" y="707.85"/><use href="#e" x="128.32" y="704.5"/><use href="#e" x="128.32" y="701.15"/><use href="#e" x="128.32" y="697.8"/><use href="#e" x="128.32" y="694.45"/><use href="#e" x="128.32" y="691.1"/><use href="#e" x="128.32" y="687.75"/><use href="#e" x="128.32" y="684.4"/><use href="#e" x="128.32" y="681.05"/><use href="#e" x="128.32" y="677.7"/><use href="#e" x="128.32" y="674.35"/><use href="#e" x="128.32" y="671"/><use href="#e" x="128.32" y="667.65"/><use href="#e" x="128.32" y="664.3"/><use href="#e" x="128.32" y="660.95"/><use href="#e" x="128.32" y="657.6"/><use href="#e" x="128.32" y="654.25"/><use href="#e" x="128.32" y="650.9"/><use href="#e" x="128.32" y="647.55"/><use href="#e" x="128.32" y="644.2"/><use href="#e" x="128.32" y="640.85"/><use href="#d" x="128.32" y="627.45"/><use href="#d" x="128.32" y="620.75"/><use href="#e" x="141.52" y="738"/><use href="#e" x="141.52" y="734.65"/><use href="#e" x="141.52" y="731.3"/><use href="#e" x="141.52" y="727.95"/><use href="#e" x="141.52" y="724.6"/><use href="#e" x="141.52" y="721.25"/><use href="#e" x="141.52" y="717.9"/><use href="#e" x="141.52" y="714.55"/><use href="#e" x="141.52" y="711.2"/><use href="#e" x="141.52" y="707.85"/><use href="#e" x="141.52" y="704.5"/><use href="#d" x="141.52" y="677.7"/><use href="#d" x="141.52" y="667.65"/><use href="#d" x="141.52" y="627.45"/><use href="#e" x="159.96" y="721.25"/><use href="#e" x="159.96" y="717.9"/><use href="#e" x="159.96" y="714.55"/><use href="#e" x="159.96" y="711.2"/><use href="#e" x="159.96" y="707.85"/><use href="#e" x="159.96" y="704.5"/><use href="#e" x="159.96" y="701.15"/><use href="#e" x="159.96" y="697.8"/><use href="#e" x="159.96" y="694.45"/><use href="#e" x="159.96" y="691.1"/><use href="#e" x="159.96" y="687.75"/><use href="#e" x="159.96" y="684.4"/><use href="#e" x="159.96" y="681.05"/><use href="#e" x="159.96" y="677.7"/><use href="#e" x="159.96" y="674.35"/><use href="#e" x="159.96" y="671"/><use href="#e" x="159.96" y="667.65"/><use href="#e" x="159.96" y="664.3"/><use href="#e" x="159.96" y="660.95"/><use href="#e" x="159.96" y="657.6"/><use href="#e" x="159.96" y="654.25"/><use href="#e" x="159.96" y="650.9"/><use href="#e" x="159.96" y="647.55"/><use href="#e" x="159.96" y="644.2"/><use href="#d" x="159.96" y="627.45"/><use href="#d" x="159.96" y="808.35"/><use href="#e" x="173.16" y="738"/><use href="#e" x="173.16" y="734.65"/><use href="#e" x="173.16" y="731.3"/><use href="#e" x="173.16" y="727.95"/><use href="#e" x="173.16" y="724.6"/><use href="#e" x="173.16" y="721.25"/><use href="#e" x="173.16" y="717.9"/><use href="#e" x="173.16" y="714.55"/><use href="#e" x="173.16" y="711.2"/><use href="#e" x="173.16" y="707.85"/><use href="#e" x="173.16" y="704.5"/><use href="#e" x="173.16" y="701.15"/><use href="#e" x="173.16" y="697.8"/><use href="#e" x="173.16" y="694.45"/><use href="#e" x="173.16" y="691.1"/><use href="#e" x="173.16" y="687.75"/><use href="#e" x="173.16" y="684.4"/><use href="#d" x="173.16" y="674.35"/><use href="#d" x="173.16" y="650.9"/><use href="#d" x="173.16" y="617.4"/><use href="#e" x="191.59" y="724.6"/><use href="#e" x="191.59" y="721.25"/><use href="#e" x="191.59" y="717.9"/><use href="#e" x="191.59" y="714.55"/><use href="#e" x="191.59" y="711.2"/><use href="#e" x="191.59" y="707.85"/><use href="#e" x="191.59" y="704.5"/><use href="#e" x="191.59" y="701.15"/><use href="#e" x="191.59" y="697.8"/><use href="#e" x="191.59" y="694.45"/><use href="#e" x="191.59" y="691.1"/><use href="#e" x="191.59" y="687.75"/><use href="#e" x="191.59" y="684.4"/><use href="#e" x="191.59" y="681.05"/><use href="#e" x="191.59" y="677.7"/><use href="#e" x="191.59" y="674.35"/><use href="#e" x="191.59" y="671"/><use href="#e" x="191.59" y="667.65"/><use href="#e" x="191.59" y="664.3"/><use href="#e" x="191.59" y="660.95"/><use href="#d" x="191.59" y="644.2"/><use href="#d" x="191.59" y="627.45"/><use href="#d" x="191.59" y="614.05"/><use href="#e" x="204.79" y="731.3"/><use href="#e" x="204.79" y="727.95"/><use href="#e" x="204.79" y="724.6"/><use href="#e" x="204.79" y="721.25"/><use href="#e" x="204.79" y="717.9"/><use href="#e" x="204.79" y="714.55"/><use href="#e" x="204.79" y="711.2"/><use href="#e" x="204.79" y="707.85"/><use href="#e" x="204.79" y="704.5"/><use href="#e" x="204.79" y="701.15"/><use href="#e" x="204.79" y="697.8"/><use href="#e" x="204.79" y="694.45"/><use href="#e" x="204.79" y="691.1"/><use href="#e" x="204.79" y="687.75"/><use href="#e" x="223.23" y="724.6"/><use href="#e" x="223.23" y="721.25"/><use href="#e" x="223.23" y="717.9"/><use href="#e" x="223.23" y="714.55"/><use href="#e" x="223.23" y="711.2"/><use href="#e" x="223.23" y="707.85"/><use href="#e" x="223.23" y="704.5"/><use href="#e" x="223.23" y="701.15"/><use href="#e" x="223.23" y="697.8"/><use href="#e" x="223.23" y="694.45"/><use href="#e" x="223.23" y="691.1"/><use href="#e" x="223.23" y="687.75"/><use href="#e" x="223.23" y="684.4"/><use href="#e" x="223.23" y="681.05"/><use href="#e" x="223.23" y="677.7"/><use href="#e" x="223.23" y="674.35"/><use href="#d" x="223.23" y="660.95"/><use href="#d" x="223.23" y="657.6"/><use href="#d" x="223.23" y="650.9"/><use href="#d" x="223.23" y="614.05"/><use href="#e" x="236.43" y="731.3"/><use href="#e" x="236.43" y="727.95"/><use href="#e" x="236.43" y="724.6"/><use href="#e" x="236.43" y="721.25"/><use href="#d" x="236.43" y="707.85"/><use href="#d" x="236.43" y="704.5"/><use href="#d" x="236.43" y="697.8"/><use href="#d" x="236.43" y="694.45"/><use href="#d" x="236.43" y="691.1"/><use href="#d" x="236.43" y="687.75"/><use href="#d" x="236.43" y="684.4"/><use href="#e" x="254.86" y="724.6"/><use href="#e" x="254.86" y="721.25"/><use href="#e" x="254.86" y="717.9"/><use href="#e" x="254.86" y="714.55"/><use href="#e" x="254.86" y="711.2"/><use href="#e" x="254.86" y="707.85"/><use href="#e" x="254.86" y="704.5"/><use href="#e" x="254.86" y="701.15"/><use href="#e" x="254.86" y="697.8"/><use href="#e" x="254.86" y="694.45"/><use href="#e" x="254.86" y="691.1"/><use href="#e" x="254.86" y="687.75"/><use href="#e" x="254.86" y="684.4"/><use href="#e" x="254.86" y="681.05"/><use href="#e" x="254.86" y="677.7"/><use href="#e" x="254.86" y="674.35"/><use href="#e" x="254.86" y="671"/><use href="#e" x="254.86" y="667.65"/><use href="#e" x="254.86" y="664.3"/><use href="#e" x="254.86" y="660.95"/><use href="#d" x="254.86" y="647.55"/><use href="#e" x="268.06" y="727.95"/><use href="#e" x="268.06" y="724.6"/><use href="#e" x="268.06" y="721.25"/><use href="#e" x="268.06" y="717.9"/><use href="#e" x="268.06" y="714.55"/><use href="#e" x="268.06" y="711.2"/><use href="#e" x="268.06" y="707.85"/><use href="#e" x="268.06" y="704.5"/><use href="#e" x="268.06" y="701.15"/><use href="#e" x="268.06" y="697.8"/><use href="#e" x="268.06" y="694.45"/><use href="#e" x="268.06" y="691.1"/><use href="#e" x="268.06" y="687.75"/><use href="#e" x="268.06" y="684.4"/><use href="#e" x="268.06" y="681.05"/><use href="#e" x="268.06" y="677.7"/><use href="#e" x="268.06" y="674.35"/><use href="#e" x="286.5" y="724.6"/><use href="#e" x="286.5" y="721.25"/><use href="#e" x="286.5" y="717.9"/><use href="#e" x="286.5" y="714.55"/><use href="#e" x="286.5" y="711.2"/><use href="#e" x="286.5" y="707.85"/><use href="#e" x="286.5" y="704.5"/><use href="#e" x="286.5" y="701.15"/><use href="#e" x="286.5" y="697.8"/><use href="#e" x="286.5" y="694.45"/><use href="#e" x="286.5" y="691.1"/><use href="#e" x="286.5" y="687.75"/><use href="#e" x="286.5" y="684.4"/><use href="#e" x="286.5" y="681.05"/><use href="#e" x="286.5" y="677.7"/><use href="#e" x="286.5" y="674.35"/><use href="#e" x="286.5" y="671"/><use href="#e" x="286.5" y="667.65"/><use href="#e" x="286.5" y="664.3"/><use href="#e" x="286.5" y="660.95"/><use href="#d" x="286.5" y="647.55"/><use href="#d" x="286.5" y="614.05"/><use href="#e" x="299.7" y="727.95"/><use href="#e" x="299.7" y="724.6"/><use href="#e" x="299.7" y="721.25"/><use href="#e" x="299.7" y="717.9"/><use href="#e" x="299.7" y="714.55"/><use href="#e" x="299.7" y="711.2"/><use href="#e" x="299.7" y="707.85"/><use href="#e" x="299.7" y="704.5"/><use href="#e" x="299.7" y="701.15"/><use href="#e" x="299.7" y="697.8"/><use href="#e" x="299.7" y="694.45"/><use href="#e" x="299.7" y="691.1"/><use href="#e" x="299.7" y="687.75"/><use href="#e" x="299.7" y="684.4"/><use href="#e" x="299.7" y="681.05"/><use href="#e" x="299.7" y="677.7"/><use href="#e" x="299.7" y="674.35"/><use href="#e" x="299.7" y="671"/><use href="#e" x="299.7" y="667.65"/><use href="#e" x="299.7" y="664.3"/><use href="#d" x="299.7" y="637.5"/><use href="#e" x="318.13" y="721.25"/><use href="#e" x="318.13" y="717.9"/><use href="#e" x="318.13" y="714.55"/><use href="#e" x="318.13" y="711.2"/><use href="#e" x="318.13" y="707.85"/><use href="#e" x="318.13" y="704.5"/><use href="#e" x="318.13" y="701.15"/><use href="#e" x="318.13" y="697.8"/><use href="#e" x="318.13" y="694.45"/><use href="#e" x="318.13" y="691.1"/><use href="#e" x="318.13" y="687.75"/><use href="#e" x="318.13" y="684.4"/><use href="#e" x="318.13" y="681.05"/><use href="#e" x="318.13" y="677.7"/><use href="#e" x="318.13" y="674.35"/><use href="#e" x="318.13" y="671"/><use href="#e" x="318.13" y="667.65"/><use href="#e" x="318.13" y="664.3"/><use href="#e" x="318.13" y="660.95"/><use href="#e" x="318.13" y="657.6"/><use href="#e" x="318.13" y="654.25"/><use href="#e" x="318.13" y="650.9"/><use href="#d" x="318.13" y="640.85"/><use href="#d" x="318.13" y="811.7"/><use href="#e" x="331.33" y="724.6"/><use href="#e" x="331.33" y="721.25"/><use href="#e" x="331.33" y="717.9"/><use href="#e" x="331.33" y="714.55"/><use href="#e" x="331.33" y="711.2"/><use href="#e" x="331.33" y="707.85"/><use href="#e" x="331.33" y="704.5"/><use href="#e" x="331.33" y="701.15"/><use href="#e" x="331.33" y="697.8"/><use href="#e" x="331.33" y="694.45"/><use href="#e" x="331.33" y="691.1"/><use href="#e" x="331.33" y="687.75"/><use href="#e" x="331.33" y="684.4"/><use href="#e" x="331.33" y="681.05"/><use href="#e" x="331.33" y="677.7"/><use href="#e" x="331.33" y="674.35"/><use href="#e" x="331.33" y="671"/><use href="#e" x="349.76" y="721.25"/><use href="#e" x="349.76" y="717.9"/><use href="#e" x="349.76" y="714.55"/><use href="#e" x="349.76" y="711.2"/><use href="#e" x="349.76" y="707.85"/><use href="#e" x="349.76" y="704.5"/><use href="#e" x="349.76" y="701.15"/><use href="#e" x="349.76" y="697.8"/><use href="#e" x="349.76" y="694.45"/><use href="#e" x="349.76" y="691.1"/><use href="#e" x="349.76" y="687.75"/><use href="#e" x="349.76" y="684.4"/><use href="#e" x="349.76" y="681.05"/><use href="#e" x="349.76" y="677.7"/><use href="#e" x="349.76" y="674.35"/><use href="#e" x="349.76" y="671"/><use href="#e" x="349.76" y="667.65"/><use href="#e" x="349.76" y="664.3"/><use href="#e" x="349.76" y="660.95"/><use href="#d" x="349.76" y="650.9"/><use href="#d" x="349.76" y="640.85"/><use href="#d" x="349.76" y="637.5"/><use href="#e" x="362.97" y="714.55"/><use href="#e" x="362.97" y="711.2"/><use href="#e" x="362.97" y="707.85"/><use href="#e" x="362.97" y="704.5"/><use href="#e" x="362.97" y="701.15"/><use href="#e" x="362.97" y="697.8"/><use href="#e" x="362.97" y="694.45"/><use href="#e" x="362.97" y="691.1"/><use href="#e" x="362.97" y="687.75"/><use href="#e" x="362.97" y="684.4"/><use href="#e" x="362.97" y="681.05"/><use href="#e" x="362.97" y="677.7"/><use href="#e" x="362.97" y="674.35"/><use href="#d" x="362.97" y="667.65"/><use href="#d" x="362.97" y="654.25"/><use href="#e" x="381.4" y="714.55"/><use href="#e" x="381.4" y="711.2"/><use href="#e" x="381.4" y="707.85"/><use href="#e" x="381.4" y="704.5"/><use href="#e" x="381.4" y="701.15"/><use href="#e" x="381.4" y="697.8"/><use href="#e" x="381.4" y="694.45"/><use href="#e" x="381.4" y="691.1"/><use href="#e" x="381.4" y="687.75"/><use href="#e" x="381.4" y="684.4"/><use href="#e" x="381.4" y="681.05"/><use href="#e" x="381.4" y="677.7"/><use href="#e" x="381.4" y="674.35"/><use href="#e" x="381.4" y="671"/><use href="#e" x="381.4" y="667.65"/><use href="#d" x="381.4" y="657.6"/><use href="#d" x="381.4" y="650.9"/><use href="#d" x="381.4" y="640.85"/><use href="#d" x="381.4" y="637.5"/><use href="#e" x="394.6" y="711.2"/><use href="#e" x="394.6" y="707.85"/><use href="#e" x="394.6" y="704.5"/><use href="#e" x="394.6" y="701.15"/><use href="#e" x="394.6" y="697.8"/><use href="#e" x="394.6" y="694.45"/><use href="#e" x="394.6" y="691.1"/><use href="#d" x="394.6" y="684.4"/><use href="#d" x="394.6" y="681.05"/><use href="#d" x="394.6" y="677.7"/><use href="#d" x="394.6" y="674.35"/><use href="#d" x="394.6" y="671"/><use href="#e" x="413.03" y="717.9"/><use href="#e" x="413.03" y="714.55"/><use href="#e" x="413.03" y="711.2"/><use href="#e" x="413.03" y="707.85"/><use href="#e" x="413.03" y="704.5"/><use href="#e" x="413.03" y="701.15"/><use href="#e" x="413.03" y="697.8"/><use href="#e" x="413.03" y="694.45"/><use href="#e" x="413.03" y="691.1"/><use href="#e" x="413.03" y="687.75"/><use href="#e" x="413.03" y="684.4"/><use href="#e" x="413.03" y="681.05"/><use href="#e" x="413.03" y="677.7"/><use href="#e" x="413.03" y="674.35"/><use href="#d" x="413.03" y="664.3"/><use href="#d" x="413.03" y="657.6"/><use href="#e" x="426.24" y="717.9"/><use href="#e" x="426.24" y="714.55"/><use href="#e" x="426.24" y="711.2"/><use href="#e" x="426.24" y="707.85"/><use href="#e" x="426.24" y="704.5"/><use href="#e" x="426.24" y="701.15"/><use href="#e" x="426.24" y="697.8"/><use href="#e" x="426.24" y="694.45"/><use href="#e" x="426.24" y="691.1"/><use href="#e" x="426.24" y="687.75"/><use href="#e" x="426.24" y="684.4"/><use href="#e" x="426.24" y="681.05"/><use href="#e" x="426.24" y="677.7"/><use href="#e" x="426.24" y="674.35"/><use href="#e" x="426.24" y="671"/><use href="#e" x="426.24" y="667.65"/><use href="#e" x="426.24" y="664.3"/><use href="#e" x="426.24" y="660.95"/><use href="#e" x="444.67" y="717.9"/><use href="#e" x="444.67" y="714.55"/><use href="#e" x="444.67" y="711.2"/><use href="#e" x="444.67" y="707.85"/><use href="#e" x="444.67" y="704.5"/><use href="#e" x="444.67" y="701.15"/><use href="#e" x="444.67" y="697.8"/><use href="#e" x="444.67" y="694.45"/><use href="#e" x="444.67" y="691.1"/><use href="#e" x="444.67" y="687.75"/><use href="#e" x="444.67" y="684.4"/><use href="#e" x="444.67" y="681.05"/><use href="#e" x="444.67" y="677.7"/><use href="#e" x="444.67" y="674.35"/><use href="#e" x="444.67" y="671"/><use href="#e" x="444.67" y="667.65"/><use href="#e" x="444.67" y="664.3"/><use href="#e" x="444.67" y="660.95"/><use href="#d" x="444.67" y="654.25"/><use href="#d" x="444.67" y="650.9"/><use href="#d" x="444.67" y="647.55"/><use href="#d" x="444.67" y="644.2"/><use href="#d" x="444.67" y="640.85"/><use href="#d" x="444.67" y="624.1"/><use href="#d" x="444.67" y="805"/><use href="#e" x="457.87" y="717.9"/><use href="#e" x="457.87" y="714.55"/><use href="#e" x="457.87" y="711.2"/><use href="#e" x="457.87" y="707.85"/><use href="#e" x="457.87" y="704.5"/><use href="#e" x="457.87" y="701.15"/><use href="#e" x="457.87" y="697.8"/><use href="#e" x="457.87" y="694.45"/><use href="#e" x="457.87" y="691.1"/><use href="#e" x="457.87" y="687.75"/><use href="#e" x="457.87" y="684.4"/><use href="#e" x="457.87" y="681.05"/><use href="#e" x="457.87" y="677.7"/><use href="#e" x="457.87" y="674.35"/><use href="#e" x="457.87" y="671"/><use href="#d" x="457.87" y="660.95"/><use href="#d" x="457.87" y="657.6"/><use href="#d" x="457.87" y="654.25"/><use href="#e" x="476.3" y="717.9"/><use href="#e" x="476.3" y="714.55"/><use href="#e" x="476.3" y="711.2"/><use href="#e" x="476.3" y="707.85"/><use href="#e" x="476.3" y="704.5"/><use href="#e" x="476.3" y="701.15"/><use href="#e" x="476.3" y="697.8"/><use href="#e" x="476.3" y="694.45"/><use href="#e" x="476.3" y="691.1"/><use href="#e" x="476.3" y="687.75"/><use href="#e" x="476.3" y="684.4"/><use href="#e" x="476.3" y="681.05"/><use href="#e" x="476.3" y="677.7"/><use href="#e" x="476.3" y="674.35"/><use href="#e" x="476.3" y="671"/><use href="#e" x="476.3" y="667.65"/><use href="#e" x="476.3" y="664.3"/><use href="#e" x="476.3" y="660.95"/><use href="#e" x="476.3" y="657.6"/><use href="#e" x="476.3" y="654.25"/><use href="#e" x="476.3" y="650.9"/><use href="#d" x="476.3" y="644.2"/><use href="#d" x="476.3" y="630.8"/><use href="#d" x="476.3" y="610.7"/><use href="#e" x="489.5" y="717.9"/><use href="#e" x="489.5" y="714.55"/><use href="#e" x="489.5" y="711.2"/><use href="#e" x="489.5" y="707.85"/><use href="#e" x="489.5" y="704.5"/><use href="#e" x="489.5" y="701.15"/><use href="#e" x="489.5" y="697.8"/><use href="#e" x="489.5" y="694.45"/><use href="#e" x="489.5" y="691.1"/><use href="#e" x="489.5" y="687.75"/><use href="#e" x="489.5" y="684.4"/><use href="#e" x="489.5" y="681.05"/><use href="#e" x="489.5" y="677.7"/><use href="#e" x="489.5" y="674.35"/><use href="#e" x="489.5" y="671"/><use href="#e" x="489.5" y="667.65"/><use href="#d" x="489.5" y="657.6"/><use href="#e" x="507.94" y="711.2"/><use href="#e" x="507.94" y="707.85"/><use href="#e" x="507.94" y="704.5"/><use href="#e" x="507.94" y="701.15"/><use href="#e" x="507.94" y="697.8"/><use href="#e" x="507.94" y="694.45"/><use href="#e" x="507.94" y="691.1"/><use href="#e" x="507.94" y="687.75"/><use href="#e" x="507.94" y="684.4"/><use href="#e" x="507.94" y="681.05"/><use href="#e" x="507.94" y="677.7"/><use href="#e" x="507.94" y="674.35"/><use href="#e" x="507.94" y="671"/><use href="#e" x="507.94" y="667.65"/><use href="#e" x="507.94" y="664.3"/><use href="#e" x="507.94" y="660.95"/><use href="#e" x="507.94" y="657.6"/><use href="#e" x="507.94" y="654.25"/><use href="#e" x="507.94" y="650.9"/><use href="#e" x="507.94" y="647.55"/><use href="#e" x="521.14" y="714.55"/><use href="#e" x="521.14" y="711.2"/><use href="#e" x="521.14" y="707.85"/><use href="#e" x="521.14" y="704.5"/><use href="#e" x="521.14" y="701.15"/><use href="#e" x="521.14" y="697.8"/><use href="#e" x="521.14" y="694.45"/><use href="#e" x="521.14" y="691.1"/><use href="#e" x="521.14" y="687.75"/><use href="#e" x="521.14" y="684.4"/><use href="#e" x="521.14" y="681.05"/><use href="#e" x="521.14" y="677.7"/><use href="#e" x="521.14" y="674.35"/><use href="#e" x="521.14" y="671"/><use href="#e" x="521.14" y="667.65"/><use href="#e" x="521.14" y="664.3"/><use href="#e" x="521.14" y="660.95"/><use href="#e" x="521.14" y="657.6"/><use href="#e" x="521.14" y="654.25"/><use href="#e" x="521.14" y="650.9"/><use href="#d" x="521.14" y="644.2"/><use href="#d" x="521.14" y="640.85"/></g>
<path d="M71.5 764.6L798.3 757.5" stroke="#4a6dab" stroke-width="1.3" stroke-dasharray="5.6 2.4" fill="none"/>
<path d="M71.5 781.5L798.3 750.9" stroke="#be4b50" stroke-width="1.3" stroke-dasharray="5.6 2.4" fill="none"/>
<rect x="49.5" y="600.5" width="784" height="221" fill="none" stroke="#cccccc" stroke-width="1.2"/>
<rect x="779.3" y="606.5" width="49.2" height="33.9" rx="2" ry="2" fill="#ffffff" fill-opacity="0.8" stroke="#cccccc" stroke-width="0.9"/>
<rect x="783.1" y="611.6" width="22.2" height="6.9" fill="#5875a4" stroke="#444444" stroke-width="0.7"/>
<rect x="783.1" y="626.7" width="22.2" height="7.8" fill="#cc8963" stroke="#444444" stroke-width="0.7"/>
<text x="814.9" y="618.2" font-size="10.4">M</text>
<text x="814.9" y="634" font-size="10.4">F</text>
</g>
</svg>
</body>
</html>
